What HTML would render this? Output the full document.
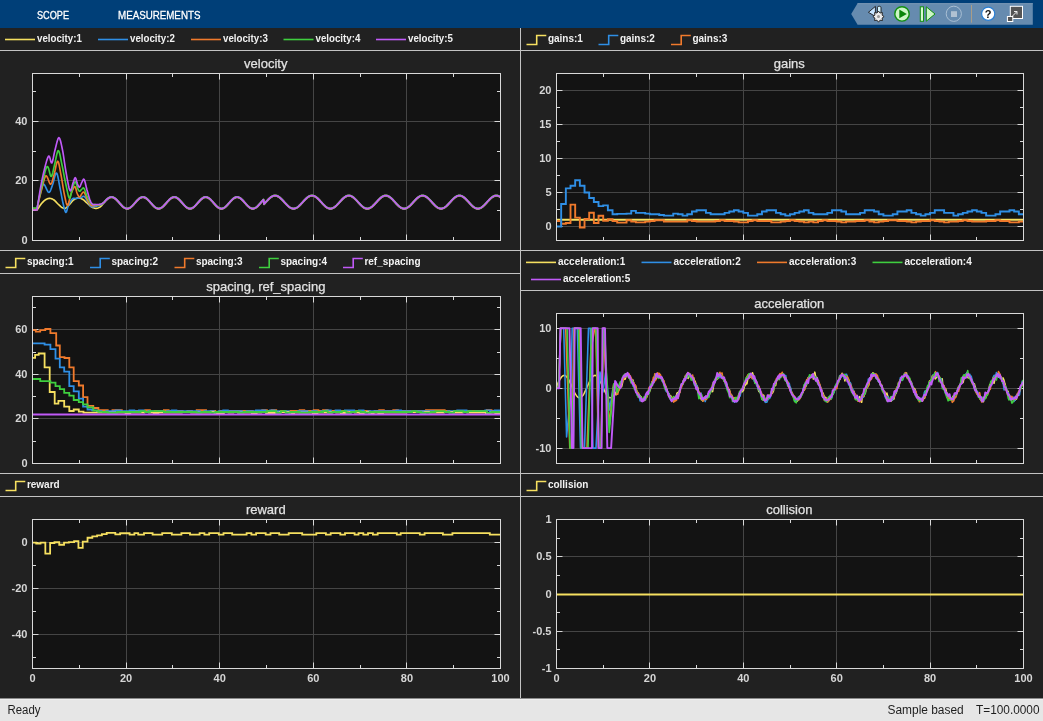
<!DOCTYPE html>
<html><head><meta charset="utf-8"><title>Scope</title>
<style>html,body{margin:0;padding:0;width:1043px;height:721px;overflow:hidden;background:#212121;font-family:"Liberation Sans",sans-serif}</style>
</head><body>
<svg width="1043" height="721" viewBox="0 0 1043 721" style="position:absolute;left:0;top:0;will-change:transform">
<style>
.tk{font:bold 11px "Liberation Sans",sans-serif;fill:#d6d6d6}
.ti{font:13px "Liberation Sans",sans-serif;fill:#e2e2e2;stroke:#e2e2e2;stroke-width:0.25px}
.lg{font:bold 10px "Liberation Sans",sans-serif;fill:#f2f2f2}
</style>
<rect width="1043" height="721" fill="#212121"/>
<path d="M520.5 28V698M0 50.5H1043M0 250.5H1043M0 273.5H520M521 290.5H1043M0 473.5H1043M0 496.5H1043" stroke="#c3c3c3" stroke-width="1"/>
<rect x="32" y="73" width="469" height="168" fill="#131313"/>
<path d="M126.5 74V240M219.5 74V240M313.5 74V240M406.5 74V240M33 180.5H500M33 121.5H500" stroke="#454545" stroke-width="1" fill="none"/>
<path d="M126.5 74v5.5M126.5 240v-5.5M219.5 74v5.5M219.5 240v-5.5M313.5 74v5.5M313.5 240v-5.5M406.5 74v5.5M406.5 240v-5.5M79.5 74v3M79.5 240v-3M172.5 74v3M172.5 240v-3M266.5 74v3M266.5 240v-3M360.5 74v3M360.5 240v-3M453.5 74v3M453.5 240v-3M33 240.5h5.5M500 240.5h-5.5M33 180.5h5.5M500 180.5h-5.5M33 121.5h5.5M500 121.5h-5.5M33 210.5h3M500 210.5h-3M33 151.5h3M500 151.5h-3M33 91.5h3M500 91.5h-3" stroke="#d9d9d9" stroke-width="1" fill="none"/>
<clipPath id="cv"><rect x="33" y="74" width="467" height="166"/></clipPath>
<g clip-path="url(#cv)">
<path d="M32.5 210 37 210 37.3 209.57 37.7 208.99 38.16 208.3 38.69 207.54 39.25 206.72 39.83 205.88 40.42 205.06 40.98 204.29 41.52 203.59 42 203 42.55 202.38 43.07 201.82 43.57 201.33 44.06 200.88 44.54 200.48 45.02 200.12 45.51 199.8 46 199.5 46.5 199.23 47 198.99 47.5 198.79 48 198.63 48.5 198.51 49 198.43 49.5 198.39 50 198.4 50.5 198.45 51 198.55 51.5 198.7 52 198.88 52.5 199.11 53 199.37 53.5 199.67 54 200 54.5 200.39 55 200.84 55.5 201.35 56 201.88 56.5 202.43 57 202.98 57.5 203.51 58 204 58.5 204.48 59.02 204.97 59.53 205.47 60.04 205.95 60.55 206.41 61.05 206.83 61.53 207.2 62 207.5 62.59 207.84 63.14 208.12 63.67 208.32 64.2 208.44 64.73 208.44 65.3 208.3 65.8 208.05 66.32 207.69 66.84 207.24 67.37 206.71 67.91 206.15 68.45 205.57 69 205 69.49 204.48 70 203.9 70.52 203.29 71.04 202.67 71.56 202.06 72.06 201.48 72.55 200.95 73 200.5 73.55 200 74.06 199.59 74.53 199.24 75 198.96 75.48 198.71 76 198.5 76.47 198.34 76.96 198.22 77.47 198.12 77.97 198.06 78.49 198.04 79 198.05 79.5 198.1 80 198.19 80.49 198.31 80.97 198.46 81.47 198.66 81.96 198.89 82.47 199.17 83 199.5 83.48 199.84 83.96 200.23 84.46 200.66 84.97 201.12 85.48 201.6 85.99 202.08 86.5 202.55 87 203 87.51 203.45 88.02 203.92 88.54 204.4 89.06 204.88 89.57 205.33 90.07 205.77 90.55 206.16 91 206.5 91.56 206.88 92.07 207.19 92.56 207.45 93.04 207.66 93.51 207.84 94 208 94.49 208.14 94.98 208.26 95.47 208.35 95.96 208.39 96.47 208.38 97 208.3 97.47 208.18 97.96 208.02 98.47 207.82 98.97 207.58 99.49 207.3 100 206.97 100.5 206.6 101.02 206.14 101.57 205.58 102.13 204.96 102.67 204.32 103.18 203.71 103.63 203.17 104 202.75 104.72 201.94 105 201.62 105.5 201.07 106 200.54 106.5 200.05 107 199.58 107.5 199.15 108 198.75 108.5 198.41 109 198.1 109.5 197.85 110 197.66 110.5 197.51 111 197.43 111.5 197.4 112 197.43 112.5 197.51 113 197.66 113.5 197.85 114 198.1 114.5 198.41 115 198.75 115.5 199.15 116 199.58 116.5 200.05 117 200.54 117.5 201.07 118 201.62 118.5 202.18 119 202.75 119.5 203.32 120 203.9 120.5 204.46 121 205.01 121.5 205.55 122 206.06 122.5 206.54 123 206.99 123.5 207.39 124 207.76 124.5 208.08 125 208.35 125.5 208.57 126 208.74 126.5 208.84 127 208.9 127.5 208.89 128 208.83 128.5 208.71 129 208.53 129.5 208.3 130 208.02 130.5 207.69 131 207.32 131.5 206.9 132 206.45 132.5 205.96 133 205.44 133.5 204.9 134 204.35 134.5 203.78 135 203.21 135.5 202.63 136 202.06 136.5 201.5 137 200.96 137.5 200.44 138 199.95 138.5 199.49 139 199.06 139.5 198.68 140 198.34 140.5 198.05 141 197.81 141.5 197.62 142 197.49 142.5 197.42 143 197.4 143.5 197.44 144 197.54 144.5 197.69 145 197.9 145.5 198.16 146 198.47 146.5 198.83 147 199.23 147.5 199.67 148 200.14 148.5 200.65 149 201.18 149.5 201.73 150 202.29 150.5 202.86 151 203.44 151.5 204.01 152 204.57 152.5 205.12 153 205.65 153.5 206.16 154 206.63 154.5 207.07 155 207.47 155.5 207.83 156 208.14 156.5 208.4 157 208.61 157.5 208.76 158 208.86 158.5 208.9 159 208.88 159.5 208.81 160 208.68 160.5 208.49 161 208.25 161.5 207.96 162 207.62 162.5 207.24 163 206.81 163.5 206.35 164 205.86 164.5 205.34 165 204.8 165.5 204.24 166 203.67 166.5 203.09 167 202.52 167.5 201.95 168 201.4 168.5 200.86 169 200.34 169.5 199.85 170 199.4 170.5 198.98 171 198.61 171.5 198.28 172 198 172.5 197.77 173 197.59 173.5 197.47 174 197.41 174.5 197.4 175 197.46 175.5 197.56 176 197.73 176.5 197.95 177 198.22 177.5 198.54 178 198.91 178.5 199.31 179 199.76 179.5 200.24 180 200.75 180.5 201.29 181 201.84 181.5 202.4 182 202.98 182.5 203.55 183 204.12 183.5 204.68 184 205.23 184.5 205.76 185 206.25 185.5 206.72 186 207.15 186.5 207.55 187 207.89 187.5 208.2 188 208.45 188.5 208.64 189 208.79 189.5 208.87 190 208.9 190.5 208.87 191 208.79 191.5 208.64 192 208.45 192.5 208.2 193 207.89 193.5 207.55 194 207.15 194.5 206.72 195 206.25 195.5 205.76 196 205.23 196.5 204.68 197 204.12 197.5 203.55 198 202.98 198.5 202.4 199 201.84 199.5 201.29 200 200.75 200.5 200.24 201 199.76 201.5 199.31 202 198.91 202.5 198.54 203 198.22 203.5 197.95 204 197.73 204.5 197.56 205 197.46 205.5 197.4 206 197.41 206.5 197.47 207 197.59 207.5 197.77 208 198 208.5 198.28 209 198.61 209.5 198.98 210 199.4 210.5 199.85 211 200.34 211.5 200.86 212 201.4 212.5 201.95 213 202.52 213.5 203.09 214 203.67 214.5 204.24 215 204.8 215.5 205.34 216 205.86 216.5 206.35 217 206.81 217.5 207.24 218 207.62 218.5 207.96 219 208.25 219.5 208.49 220 208.68 220.5 208.81 221 208.88 221.5 208.9 222 208.86 222.5 208.76 223 208.61 223.5 208.4 224 208.14 224.5 207.83 225 207.47 225.5 207.07 226 206.63 226.5 206.16 227 205.65 227.5 205.12 228 204.57 228.5 204.01 229 203.44 229.5 202.86 230 202.29 230.5 201.73 231 201.18 231.5 200.65 232 200.14 232.5 199.67 233 199.23 233.5 198.83 234 198.47 234.5 198.16 235 197.9 235.5 197.69 236 197.54 236.5 197.44 237 197.4 237.5 197.42 238 197.49 238.5 197.62 239 197.81 239.5 198.05 240 198.34 240.5 198.68 241 199.06 241.5 199.49 242 199.95 242.5 200.44 243 200.96 243.5 201.5 244 202.06 244.5 202.63 245 203.21 245.5 203.78 246 204.35 246.5 204.9 247 205.44 247.5 205.96 248 206.45 248.5 206.9 249 207.32 249.5 207.69 250 208.02 250.5 208.3 251 208.53 251.5 208.71 252 208.83 252.5 208.89 253 208.9 253.5 208.84 254 208.74 254.5 208.57 255 208.35 255.5 208.08 256 207.76 256.5 207.39 257 206.99 257.5 206.54 258 206.06 258.5 205.55 259 205.01 259.5 204.46 260 203.9 260.5 203.32 261 202.75 261.5 202.18 262 201.62 262.5 201.07 263 200.54 263.5 200.05 264 204.45 264.5 203.92 265 203.37 265.5 202.82 266 202.27 266.5 201.72 267 201.17 267.5 200.63 268 200.11 268.5 199.6 269 199.11 269.5 198.64 270 198.2 270.5 197.8 271 197.42 271.5 197.09 272 196.79 272.5 196.53 273 196.31 273.5 196.14 274 196.01 274.5 195.93 275 195.9 275.5 195.92 276 195.98 276.5 196.08 277 196.24 277.5 196.44 278 196.68 278.5 196.96 279 197.28 279.5 197.64 280 198.04 280.5 198.46 281 198.92 281.5 199.4 282 199.9 282.5 200.42 283 200.95 283.5 201.5 284 202.05 284.5 202.6 285 203.15 285.5 203.7 286 204.24 286.5 204.76 287 205.27 287.5 205.75 288 206.22 288.5 206.65 289 207.05 289.5 207.42 290 207.76 290.5 208.05 291 208.3 291.5 208.51 292 208.68 292.5 208.8 293 208.87 293.5 208.9 294 208.88 294.5 208.81 295 208.7 295.5 208.54 296 208.33 296.5 208.09 297 207.8 297.5 207.47 298 207.11 298.5 206.71 299 206.28 299.5 205.82 300 205.34 300.5 204.83 301 204.31 301.5 203.78 302 203.23 302.5 202.68 303 202.13 303.5 201.57 304 201.03 304.5 200.49 305 199.97 305.5 199.47 306 198.98 306.5 198.53 307 198.1 307.5 197.7 308 197.33 308.5 197 309 196.71 309.5 196.47 310 196.26 310.5 196.1 311 195.99 311.5 195.92 312 195.9 312.5 195.93 313 196 313.5 196.12 314 196.29 314.5 196.49 315 196.75 315.5 197.04 316 197.37 316.5 197.74 317 198.15 317.5 198.58 318 199.04 318.5 199.53 319 200.03 319.5 200.56 320 201.09 320.5 201.64 321 202.19 321.5 202.75 322 203.3 322.5 203.84 323 204.38 323.5 204.9 324 205.4 324.5 205.88 325 206.33 325.5 206.76 326 207.15 326.5 207.51 327 207.84 327.5 208.12 328 208.36 328.5 208.56 329 208.71 329.5 208.82 330 208.88 330.5 208.9 331 208.87 331.5 208.79 332 208.66 332.5 208.49 333 208.27 333.5 208.02 334 207.72 334.5 207.38 335 207.01 335.5 206.6 336 206.16 336.5 205.7 337 205.21 337.5 204.7 338 204.17 338.5 203.64 339 203.09 339.5 202.54 340 201.98 340.5 201.43 341 200.89 341.5 200.36 342 199.84 342.5 199.34 343 198.86 343.5 198.41 344 197.99 344.5 197.6 345 197.24 345.5 196.92 346 196.65 346.5 196.41 347 196.22 347.5 196.07 348 195.97 348.5 195.91 349 195.9 349.5 195.94 350 196.03 350.5 196.16 351 196.34 351.5 196.56 352 196.82 352.5 197.12 353 197.47 353.5 197.84 354 198.26 354.5 198.7 355 199.16 355.5 199.66 356 200.17 356.5 200.69 357 201.23 357.5 201.78 358 202.34 358.5 202.89 359 203.44 359.5 203.98 360 204.51 360.5 205.03 361 205.52 361.5 206 362 206.45 362.5 206.86 363 207.25 363.5 207.6 364 207.91 364.5 208.19 365 208.42 365.5 208.6 366 208.75 366.5 208.84 367 208.89 367.5 208.9 368 208.85 368.5 208.76 369 208.62 369.5 208.44 370 208.21 370.5 207.94 371 207.63 371.5 207.29 372 206.9 372.5 206.49 373 206.04 373.5 205.57 374 205.08 374.5 204.56 375 204.04 375.5 203.49 376 202.94 376.5 202.39 377 201.84 377.5 201.29 378 200.75 378.5 200.22 379 199.71 379.5 199.21 380 198.74 380.5 198.3 381 197.88 381.5 197.5 382 197.16 382.5 196.85 383 196.58 383.5 196.36 384 196.17 384.5 196.04 385 195.95 385.5 195.9 386 195.91 386.5 195.96 387 196.06 387.5 196.2 388 196.39 388.5 196.62 389 196.9 389.5 197.21 390 197.56 390.5 197.95 391 198.37 391.5 198.82 392 199.29 392.5 199.79 393 200.3 393.5 200.83 394 201.38 394.5 201.93 395 202.48 395.5 203.03 396 203.58 396.5 204.12 397 204.65 397.5 205.16 398 205.65 398.5 206.12 399 206.56 399.5 206.97 400 207.34 400.5 207.69 401 207.99 401.5 208.25 402 208.47 402.5 208.65 403 208.78 403.5 208.86 404 208.9 404.5 208.89 405 208.83 405.5 208.73 406 208.58 406.5 208.38 407 208.15 407.5 207.87 408 207.55 408.5 207.19 409 206.8 409.5 206.38 410 205.92 410.5 205.45 411 204.95 411.5 204.43 412 203.9 412.5 203.35 413 202.8 413.5 202.25 414 201.7 414.5 201.15 415 200.61 415.5 200.08 416 199.58 416.5 199.09 417 198.62 417.5 198.19 418 197.78 418.5 197.41 419 197.07 419.5 196.77 420 196.52 420.5 196.3 421 196.13 421.5 196.01 422 195.93 422.5 195.9 423 195.92 423.5 195.98 424 196.09 424.5 196.24 425 196.44 425.5 196.69 426 196.97 426.5 197.3 427 197.66 427.5 198.05 428 198.48 428.5 198.94 429 199.42 429.5 199.92 430 200.44 430.5 200.97 431 201.52 431.5 202.07 432 202.62 432.5 203.18 433 203.72 433.5 204.26 434 204.78 434.5 205.29 435 205.77 435.5 206.23 436 206.67 436.5 207.07 437 207.44 437.5 207.77 438 208.06 438.5 208.31 439 208.52 439.5 208.68 440 208.8 440.5 208.87 441 208.9 441.5 208.88 442 208.81 442.5 208.69 443 208.53 443.5 208.33 444 208.08 444.5 207.79 445 207.46 445.5 207.09 446 206.69 446.5 206.26 447 205.8 447.5 205.32 448 204.81 448.5 204.29 449 203.76 449.5 203.21 450 202.66 450.5 202.1 451 201.55 451.5 201.01 452 200.47 452.5 199.95 453 199.45 453.5 198.96 454 198.51 454.5 198.08 455 197.68 455.5 197.32 456 196.99 456.5 196.7 457 196.46 457.5 196.26 458 196.1 458.5 195.98 459 195.92 459.5 195.9 460 195.93 460.5 196 461 196.13 461.5 196.29 462 196.5 462.5 196.76 463 197.05 463.5 197.39 464 197.76 464.5 198.16 465 198.6 465.5 199.06 466 199.55 466.5 200.05 467 200.58 467.5 201.12 468 201.66 468.5 202.21 469 202.77 469.5 203.32 470 203.86 470.5 204.4 471 204.92 471.5 205.42 472 205.9 472.5 206.35 473 206.77 473.5 207.17 474 207.53 474.5 207.85 475 208.13 475.5 208.37 476 208.57 476.5 208.72 477 208.83 477.5 208.89 478 208.9 478.5 208.86 479 208.78 479.5 208.66 480 208.48 480.5 208.27 481 208.01 481.5 207.71 482 207.37 482.5 206.99 483 206.58 483.5 206.14 484 205.68 484.5 205.19 485 204.68 485.5 204.15 486 203.61 486.5 203.07 487 202.51 487.5 201.96 488 201.41 488.5 200.87 489 200.33 489.5 199.82 490 199.32 490.5 198.84 491 198.39 491.5 197.97 492 197.58 492.5 197.23 493 196.91 493.5 196.64 494 196.4 494.5 196.21 495 196.06 495.5 195.96 496 195.91 496.5 195.9 497 195.94 497.5 196.03 498 196.16 498.5 196.34 499 196.57 499.5 196.83 500 197.14 500.5 197.48" stroke="#f6e060" stroke-width="1.65" fill="none" stroke-linejoin="round"/>
<path d="M32.5 208.5 37 208.5 37.32 207 37.76 204.9 38.28 202.42 38.85 199.8 39.44 197.25 40 195 40.46 193.15 40.91 191.16 41.37 189.19 41.85 187.36 42.35 185.82 42.9 184.72 43.5 184.2 43.96 184.32 44.47 184.87 45.01 185.75 45.57 186.86 46.14 188.09 46.71 189.33 47.27 190.49 47.81 191.45 48.33 192.13 48.8 192.4 49.41 192.2 49.97 191.56 50.48 190.56 50.98 189.31 51.47 187.9 51.97 186.43 52.5 185 52.99 183.54 53.49 181.69 54 179.65 54.51 177.6 55.02 175.72 55.53 174.21 56.02 173.24 56.5 173 57.03 173.73 57.55 175.32 58.06 177.54 58.56 180.15 59.05 182.93 59.53 185.62 60 188 60.53 190.56 61.04 193.21 61.54 195.85 62.03 198.41 62.51 200.82 63 203 63.59 205.51 64.18 207.97 64.77 210.12 65.34 211.68 65.9 212.4 66.42 211.97 66.9 210.59 67.38 208.67 67.9 206.67 68.5 205 68.99 204.01 69.53 203 70.1 202 70.68 201.05 71.27 200.19 71.85 199.46 72.4 198.9 72.92 198.55 73.42 198.38 73.91 198.35 74.4 198.4 74.91 198.48 75.44 198.53 76 198.5 76.47 198.43 76.97 198.36 77.5 198.28 78.03 198.19 78.57 198.1 79.1 198.01 79.63 197.91 80.13 197.81 80.6 197.7 81.17 197.49 81.7 197.19 82.2 196.86 82.7 196.57 83.19 196.37 83.68 196.32 84.2 196.5 84.74 196.94 85.29 197.61 85.85 198.44 86.4 199.35 86.95 200.3 87.49 201.2 88 202 88.55 202.88 89.05 203.79 89.54 204.67 90.04 205.47 90.58 206.13 91.2 206.6 91.66 206.78 92.16 206.86 92.69 206.87 93.24 206.81 93.8 206.71 94.36 206.58 94.92 206.44 95.47 206.31 96 206.2 96.52 206.11 97.04 206.01 97.56 205.91 98.08 205.79 98.59 205.66 99.09 205.52 99.57 205.37 100.05 205.19 100.5 205 101.07 204.7 101.65 204.35 102.2 203.97 102.73 203.57 103.21 203.19 103.64 202.84 104 202.55 104.72 201.83 105 201.42 105.5 200.87 106 200.34 106.5 199.85 107 199.38 107.5 198.95 108 198.55 108.5 198.21 109 197.9 109.5 197.65 110 197.46 110.5 197.31 111 197.23 111.5 197.2 112 197.23 112.5 197.31 113 197.46 113.5 197.65 114 197.9 114.5 198.21 115 198.55 115.5 198.95 116 199.38 116.5 199.85 117 200.34 117.5 200.87 118 201.42 118.5 201.98 119 202.55 119.5 203.12 120 203.7 120.5 204.26 121 204.81 121.5 205.35 122 205.86 122.5 206.34 123 206.79 123.5 207.19 124 207.56 124.5 207.88 125 208.15 125.5 208.37 126 208.54 126.5 208.64 127 208.7 127.5 208.69 128 208.63 128.5 208.51 129 208.33 129.5 208.1 130 207.82 130.5 207.49 131 207.12 131.5 206.7 132 206.25 132.5 205.76 133 205.24 133.5 204.7 134 204.15 134.5 203.58 135 203.01 135.5 202.43 136 201.86 136.5 201.3 137 200.76 137.5 200.24 138 199.75 138.5 199.29 139 198.86 139.5 198.48 140 198.14 140.5 197.85 141 197.61 141.5 197.42 142 197.29 142.5 197.22 143 197.2 143.5 197.24 144 197.34 144.5 197.49 145 197.7 145.5 197.96 146 198.27 146.5 198.63 147 199.03 147.5 199.47 148 199.94 148.5 200.45 149 200.98 149.5 201.53 150 202.09 150.5 202.66 151 203.24 151.5 203.81 152 204.37 152.5 204.92 153 205.45 153.5 205.96 154 206.43 154.5 206.87 155 207.27 155.5 207.63 156 207.94 156.5 208.2 157 208.41 157.5 208.56 158 208.66 158.5 208.7 159 208.68 159.5 208.61 160 208.48 160.5 208.29 161 208.05 161.5 207.76 162 207.42 162.5 207.04 163 206.61 163.5 206.15 164 205.66 164.5 205.14 165 204.6 165.5 204.04 166 203.47 166.5 202.89 167 202.32 167.5 201.75 168 201.2 168.5 200.66 169 200.14 169.5 199.65 170 199.2 170.5 198.78 171 198.41 171.5 198.08 172 197.8 172.5 197.57 173 197.39 173.5 197.27 174 197.21 174.5 197.2 175 197.26 175.5 197.36 176 197.53 176.5 197.75 177 198.02 177.5 198.34 178 198.71 178.5 199.11 179 199.56 179.5 200.04 180 200.55 180.5 201.09 181 201.64 181.5 202.2 182 202.78 182.5 203.35 183 203.92 183.5 204.48 184 205.03 184.5 205.56 185 206.05 185.5 206.52 186 206.95 186.5 207.35 187 207.69 187.5 208 188 208.25 188.5 208.44 189 208.59 189.5 208.67 190 208.7 190.5 208.67 191 208.59 191.5 208.44 192 208.25 192.5 208 193 207.69 193.5 207.35 194 206.95 194.5 206.52 195 206.05 195.5 205.56 196 205.03 196.5 204.48 197 203.92 197.5 203.35 198 202.78 198.5 202.2 199 201.64 199.5 201.09 200 200.55 200.5 200.04 201 199.56 201.5 199.11 202 198.71 202.5 198.34 203 198.02 203.5 197.75 204 197.53 204.5 197.36 205 197.26 205.5 197.2 206 197.21 206.5 197.27 207 197.39 207.5 197.57 208 197.8 208.5 198.08 209 198.41 209.5 198.78 210 199.2 210.5 199.65 211 200.14 211.5 200.66 212 201.2 212.5 201.75 213 202.32 213.5 202.89 214 203.47 214.5 204.04 215 204.6 215.5 205.14 216 205.66 216.5 206.15 217 206.61 217.5 207.04 218 207.42 218.5 207.76 219 208.05 219.5 208.29 220 208.48 220.5 208.61 221 208.68 221.5 208.7 222 208.66 222.5 208.56 223 208.41 223.5 208.2 224 207.94 224.5 207.63 225 207.27 225.5 206.87 226 206.43 226.5 205.96 227 205.45 227.5 204.92 228 204.37 228.5 203.81 229 203.24 229.5 202.66 230 202.09 230.5 201.53 231 200.98 231.5 200.45 232 199.94 232.5 199.47 233 199.03 233.5 198.63 234 198.27 234.5 197.96 235 197.7 235.5 197.49 236 197.34 236.5 197.24 237 197.2 237.5 197.22 238 197.29 238.5 197.42 239 197.61 239.5 197.85 240 198.14 240.5 198.48 241 198.86 241.5 199.29 242 199.75 242.5 200.24 243 200.76 243.5 201.3 244 201.86 244.5 202.43 245 203.01 245.5 203.58 246 204.15 246.5 204.7 247 205.24 247.5 205.76 248 206.25 248.5 206.7 249 207.12 249.5 207.49 250 207.82 250.5 208.1 251 208.33 251.5 208.51 252 208.63 252.5 208.69 253 208.7 253.5 208.64 254 208.54 254.5 208.37 255 208.15 255.5 207.88 256 207.56 256.5 207.19 257 206.79 257.5 206.34 258 205.86 258.5 205.35 259 204.81 259.5 204.26 260 203.7 260.5 203.12 261 202.55 261.5 201.98 262 201.42 262.5 200.87 263 200.34 263.5 199.85 264 204.25 264.5 203.72 265 203.17 265.5 202.62 266 202.07 266.5 201.52 267 200.97 267.5 200.43 268 199.91 268.5 199.4 269 198.91 269.5 198.44 270 198 270.5 197.6 271 197.22 271.5 196.89 272 196.59 272.5 196.33 273 196.11 273.5 195.94 274 195.81 274.5 195.73 275 195.7 275.5 195.72 276 195.78 276.5 195.88 277 196.04 277.5 196.24 278 196.48 278.5 196.76 279 197.08 279.5 197.44 280 197.84 280.5 198.26 281 198.72 281.5 199.2 282 199.7 282.5 200.22 283 200.75 283.5 201.3 284 201.85 284.5 202.4 285 202.95 285.5 203.5 286 204.04 286.5 204.56 287 205.07 287.5 205.55 288 206.02 288.5 206.45 289 206.85 289.5 207.22 290 207.56 290.5 207.85 291 208.1 291.5 208.31 292 208.48 292.5 208.6 293 208.67 293.5 208.7 294 208.68 294.5 208.61 295 208.5 295.5 208.34 296 208.13 296.5 207.89 297 207.6 297.5 207.27 298 206.91 298.5 206.51 299 206.08 299.5 205.62 300 205.14 300.5 204.63 301 204.11 301.5 203.58 302 203.03 302.5 202.48 303 201.93 303.5 201.37 304 200.83 304.5 200.29 305 199.77 305.5 199.27 306 198.78 306.5 198.33 307 197.9 307.5 197.5 308 197.13 308.5 196.8 309 196.51 309.5 196.27 310 196.06 310.5 195.9 311 195.79 311.5 195.72 312 195.7 312.5 195.73 313 195.8 313.5 195.92 314 196.09 314.5 196.29 315 196.55 315.5 196.84 316 197.17 316.5 197.54 317 197.95 317.5 198.38 318 198.84 318.5 199.33 319 199.83 319.5 200.36 320 200.89 320.5 201.44 321 201.99 321.5 202.55 322 203.1 322.5 203.64 323 204.18 323.5 204.7 324 205.2 324.5 205.68 325 206.13 325.5 206.56 326 206.95 326.5 207.31 327 207.64 327.5 207.92 328 208.16 328.5 208.36 329 208.51 329.5 208.62 330 208.68 330.5 208.7 331 208.67 331.5 208.59 332 208.46 332.5 208.29 333 208.07 333.5 207.82 334 207.52 334.5 207.18 335 206.81 335.5 206.4 336 205.96 336.5 205.5 337 205.01 337.5 204.5 338 203.97 338.5 203.44 339 202.89 339.5 202.34 340 201.78 340.5 201.23 341 200.69 341.5 200.16 342 199.64 342.5 199.14 343 198.66 343.5 198.21 344 197.79 344.5 197.4 345 197.04 345.5 196.72 346 196.45 346.5 196.21 347 196.02 347.5 195.87 348 195.77 348.5 195.71 349 195.7 349.5 195.74 350 195.83 350.5 195.96 351 196.14 351.5 196.36 352 196.62 352.5 196.92 353 197.27 353.5 197.64 354 198.06 354.5 198.5 355 198.96 355.5 199.46 356 199.97 356.5 200.49 357 201.03 357.5 201.58 358 202.14 358.5 202.69 359 203.24 359.5 203.78 360 204.31 360.5 204.83 361 205.32 361.5 205.8 362 206.25 362.5 206.66 363 207.05 363.5 207.4 364 207.71 364.5 207.99 365 208.22 365.5 208.4 366 208.55 366.5 208.64 367 208.69 367.5 208.7 368 208.65 368.5 208.56 369 208.42 369.5 208.24 370 208.01 370.5 207.74 371 207.43 371.5 207.09 372 206.7 372.5 206.29 373 205.84 373.5 205.37 374 204.88 374.5 204.36 375 203.84 375.5 203.29 376 202.74 376.5 202.19 377 201.64 377.5 201.09 378 200.55 378.5 200.02 379 199.51 379.5 199.01 380 198.54 380.5 198.1 381 197.68 381.5 197.3 382 196.96 382.5 196.65 383 196.38 383.5 196.16 384 195.97 384.5 195.84 385 195.75 385.5 195.7 386 195.71 386.5 195.76 387 195.86 387.5 196 388 196.19 388.5 196.42 389 196.7 389.5 197.01 390 197.36 390.5 197.75 391 198.17 391.5 198.62 392 199.09 392.5 199.59 393 200.1 393.5 200.63 394 201.18 394.5 201.73 395 202.28 395.5 202.83 396 203.38 396.5 203.92 397 204.45 397.5 204.96 398 205.45 398.5 205.92 399 206.36 399.5 206.77 400 207.14 400.5 207.49 401 207.79 401.5 208.05 402 208.27 402.5 208.45 403 208.58 403.5 208.66 404 208.7 404.5 208.69 405 208.63 405.5 208.53 406 208.38 406.5 208.18 407 207.95 407.5 207.67 408 207.35 408.5 206.99 409 206.6 409.5 206.18 410 205.72 410.5 205.25 411 204.75 411.5 204.23 412 203.7 412.5 203.15 413 202.6 413.5 202.05 414 201.5 414.5 200.95 415 200.41 415.5 199.88 416 199.38 416.5 198.89 417 198.42 417.5 197.99 418 197.58 418.5 197.21 419 196.87 419.5 196.57 420 196.32 420.5 196.1 421 195.93 421.5 195.81 422 195.73 422.5 195.7 423 195.72 423.5 195.78 424 195.89 424.5 196.04 425 196.24 425.5 196.49 426 196.77 426.5 197.1 427 197.46 427.5 197.85 428 198.28 428.5 198.74 429 199.22 429.5 199.72 430 200.24 430.5 200.77 431 201.32 431.5 201.87 432 202.42 432.5 202.98 433 203.52 433.5 204.06 434 204.58 434.5 205.09 435 205.57 435.5 206.03 436 206.47 436.5 206.87 437 207.24 437.5 207.57 438 207.86 438.5 208.11 439 208.32 439.5 208.48 440 208.6 440.5 208.67 441 208.7 441.5 208.68 442 208.61 442.5 208.49 443 208.33 443.5 208.13 444 207.88 444.5 207.59 445 207.26 445.5 206.89 446 206.49 446.5 206.06 447 205.6 447.5 205.12 448 204.61 448.5 204.09 449 203.56 449.5 203.01 450 202.46 450.5 201.9 451 201.35 451.5 200.81 452 200.27 452.5 199.75 453 199.25 453.5 198.76 454 198.31 454.5 197.88 455 197.48 455.5 197.12 456 196.79 456.5 196.5 457 196.26 457.5 196.06 458 195.9 458.5 195.78 459 195.72 459.5 195.7 460 195.73 460.5 195.8 461 195.93 461.5 196.09 462 196.3 462.5 196.56 463 196.85 463.5 197.19 464 197.56 464.5 197.96 465 198.4 465.5 198.86 466 199.35 466.5 199.85 467 200.38 467.5 200.92 468 201.46 468.5 202.01 469 202.57 469.5 203.12 470 203.66 470.5 204.2 471 204.72 471.5 205.22 472 205.7 472.5 206.15 473 206.57 473.5 206.97 474 207.33 474.5 207.65 475 207.93 475.5 208.17 476 208.37 476.5 208.52 477 208.63 477.5 208.69 478 208.7 478.5 208.66 479 208.58 479.5 208.46 480 208.28 480.5 208.07 481 207.81 481.5 207.51 482 207.17 482.5 206.79 483 206.38 483.5 205.94 484 205.48 484.5 204.99 485 204.48 485.5 203.95 486 203.41 486.5 202.87 487 202.31 487.5 201.76 488 201.21 488.5 200.67 489 200.13 489.5 199.62 490 199.12 490.5 198.64 491 198.19 491.5 197.77 492 197.38 492.5 197.03 493 196.71 493.5 196.44 494 196.2 494.5 196.01 495 195.86 495.5 195.76 496 195.71 496.5 195.7 497 195.74 497.5 195.83 498 195.96 498.5 196.14 499 196.37 499.5 196.63 500 196.94 500.5 197.28" stroke="#2f8fe6" stroke-width="1.65" fill="none" stroke-linejoin="round"/>
<path d="M32.5 209 37 209 37.3 207.7 37.7 205.96 38.17 203.89 38.7 201.59 39.26 199.15 39.84 196.67 40.42 194.26 40.98 192 41.5 190 42.05 187.85 42.6 185.61 43.14 183.37 43.69 181.24 44.23 179.33 44.78 177.74 45.34 176.56 45.9 175.9 46.42 175.93 46.95 176.57 47.49 177.66 48.04 179.01 48.58 180.48 49.12 181.9 49.64 183.1 50.13 183.92 50.6 184.2 51.24 183.73 51.82 182.6 52.36 180.98 52.89 179.06 53.43 177 54 175 54.52 173.03 55.05 170.59 55.59 167.96 56.13 165.42 56.66 163.27 57.19 161.76 57.7 161.2 58.27 161.83 58.82 163.53 59.36 165.99 59.9 168.92 60.44 172.02 61 175 61.49 177.62 62 180.54 62.51 183.64 63.02 186.77 63.53 189.8 64.02 192.59 64.5 195 65.02 197.54 65.52 199.99 66 202.16 66.48 203.9 66.98 205.04 67.5 205.4 67.97 204.88 68.45 203.62 68.95 201.83 69.45 199.76 69.96 197.61 70.48 195.61 71 194 71.54 192.6 72.11 191.16 72.69 189.78 73.27 188.53 73.82 187.51 74.34 186.8 74.8 186.5 75.46 187.2 75.98 189.03 76.47 191.22 77 193 77.48 194.1 77.98 195.18 78.49 196.13 79 196.81 79.5 197.1 80 196.83 80.51 196.09 81.02 195.13 81.52 194.18 82 193.5 82.55 192.85 83.05 192.25 83.58 192 84.2 192.4 84.68 193.19 85.2 194.37 85.76 195.79 86.33 197.31 86.91 198.76 87.5 200 88 200.93 88.5 201.86 89 202.76 89.52 203.59 90.05 204.32 90.61 204.94 91.2 205.4 91.69 205.63 92.2 205.76 92.73 205.8 93.27 205.77 93.83 205.69 94.38 205.58 94.93 205.47 95.47 205.37 96 205.3 96.52 205.26 97.04 205.21 97.56 205.17 98.08 205.12 98.59 205.05 99.09 204.97 99.57 204.87 100.05 204.75 100.5 204.6 101.07 204.35 101.65 204.04 102.2 203.68 102.73 203.32 103.21 202.95 103.64 202.62 104 202.35 104.72 201.64 105 201.22 105.5 200.67 106 200.14 106.5 199.65 107 199.18 107.5 198.75 108 198.35 108.5 198.01 109 197.7 109.5 197.45 110 197.26 110.5 197.11 111 197.03 111.5 197 112 197.03 112.5 197.11 113 197.26 113.5 197.45 114 197.7 114.5 198.01 115 198.35 115.5 198.75 116 199.18 116.5 199.65 117 200.14 117.5 200.67 118 201.22 118.5 201.78 119 202.35 119.5 202.92 120 203.5 120.5 204.06 121 204.61 121.5 205.15 122 205.66 122.5 206.14 123 206.59 123.5 206.99 124 207.36 124.5 207.68 125 207.95 125.5 208.17 126 208.34 126.5 208.44 127 208.5 127.5 208.49 128 208.43 128.5 208.31 129 208.13 129.5 207.9 130 207.62 130.5 207.29 131 206.92 131.5 206.5 132 206.05 132.5 205.56 133 205.04 133.5 204.5 134 203.95 134.5 203.38 135 202.81 135.5 202.23 136 201.66 136.5 201.1 137 200.56 137.5 200.04 138 199.55 138.5 199.09 139 198.66 139.5 198.28 140 197.94 140.5 197.65 141 197.41 141.5 197.22 142 197.09 142.5 197.02 143 197 143.5 197.04 144 197.14 144.5 197.29 145 197.5 145.5 197.76 146 198.07 146.5 198.43 147 198.83 147.5 199.27 148 199.74 148.5 200.25 149 200.78 149.5 201.33 150 201.89 150.5 202.46 151 203.04 151.5 203.61 152 204.17 152.5 204.72 153 205.25 153.5 205.76 154 206.23 154.5 206.67 155 207.07 155.5 207.43 156 207.74 156.5 208 157 208.21 157.5 208.36 158 208.46 158.5 208.5 159 208.48 159.5 208.41 160 208.28 160.5 208.09 161 207.85 161.5 207.56 162 207.22 162.5 206.84 163 206.41 163.5 205.95 164 205.46 164.5 204.94 165 204.4 165.5 203.84 166 203.27 166.5 202.69 167 202.12 167.5 201.55 168 201 168.5 200.46 169 199.94 169.5 199.45 170 199 170.5 198.58 171 198.21 171.5 197.88 172 197.6 172.5 197.37 173 197.19 173.5 197.07 174 197.01 174.5 197 175 197.06 175.5 197.16 176 197.33 176.5 197.55 177 197.82 177.5 198.14 178 198.51 178.5 198.91 179 199.36 179.5 199.84 180 200.35 180.5 200.89 181 201.44 181.5 202 182 202.58 182.5 203.15 183 203.72 183.5 204.28 184 204.83 184.5 205.36 185 205.85 185.5 206.32 186 206.75 186.5 207.15 187 207.49 187.5 207.8 188 208.05 188.5 208.24 189 208.39 189.5 208.47 190 208.5 190.5 208.47 191 208.39 191.5 208.24 192 208.05 192.5 207.8 193 207.49 193.5 207.15 194 206.75 194.5 206.32 195 205.85 195.5 205.36 196 204.83 196.5 204.28 197 203.72 197.5 203.15 198 202.58 198.5 202 199 201.44 199.5 200.89 200 200.35 200.5 199.84 201 199.36 201.5 198.91 202 198.51 202.5 198.14 203 197.82 203.5 197.55 204 197.33 204.5 197.16 205 197.06 205.5 197 206 197.01 206.5 197.07 207 197.19 207.5 197.37 208 197.6 208.5 197.88 209 198.21 209.5 198.58 210 199 210.5 199.45 211 199.94 211.5 200.46 212 201 212.5 201.55 213 202.12 213.5 202.69 214 203.27 214.5 203.84 215 204.4 215.5 204.94 216 205.46 216.5 205.95 217 206.41 217.5 206.84 218 207.22 218.5 207.56 219 207.85 219.5 208.09 220 208.28 220.5 208.41 221 208.48 221.5 208.5 222 208.46 222.5 208.36 223 208.21 223.5 208 224 207.74 224.5 207.43 225 207.07 225.5 206.67 226 206.23 226.5 205.76 227 205.25 227.5 204.72 228 204.17 228.5 203.61 229 203.04 229.5 202.46 230 201.89 230.5 201.33 231 200.78 231.5 200.25 232 199.74 232.5 199.27 233 198.83 233.5 198.43 234 198.07 234.5 197.76 235 197.5 235.5 197.29 236 197.14 236.5 197.04 237 197 237.5 197.02 238 197.09 238.5 197.22 239 197.41 239.5 197.65 240 197.94 240.5 198.28 241 198.66 241.5 199.09 242 199.55 242.5 200.04 243 200.56 243.5 201.1 244 201.66 244.5 202.23 245 202.81 245.5 203.38 246 203.95 246.5 204.5 247 205.04 247.5 205.56 248 206.05 248.5 206.5 249 206.92 249.5 207.29 250 207.62 250.5 207.9 251 208.13 251.5 208.31 252 208.43 252.5 208.49 253 208.5 253.5 208.44 254 208.34 254.5 208.17 255 207.95 255.5 207.68 256 207.36 256.5 206.99 257 206.59 257.5 206.14 258 205.66 258.5 205.15 259 204.61 259.5 204.06 260 203.5 260.5 202.92 261 202.35 261.5 201.78 262 201.22 262.5 200.67 263 200.14 263.5 199.65 264 204.05 264.5 203.52 265 202.97 265.5 202.42 266 201.87 266.5 201.32 267 200.77 267.5 200.23 268 199.71 268.5 199.2 269 198.71 269.5 198.24 270 197.8 270.5 197.4 271 197.02 271.5 196.69 272 196.39 272.5 196.13 273 195.91 273.5 195.74 274 195.61 274.5 195.53 275 195.5 275.5 195.52 276 195.58 276.5 195.68 277 195.84 277.5 196.04 278 196.28 278.5 196.56 279 196.88 279.5 197.24 280 197.64 280.5 198.06 281 198.52 281.5 199 282 199.5 282.5 200.02 283 200.55 283.5 201.1 284 201.65 284.5 202.2 285 202.75 285.5 203.3 286 203.84 286.5 204.36 287 204.87 287.5 205.35 288 205.82 288.5 206.25 289 206.65 289.5 207.02 290 207.36 290.5 207.65 291 207.9 291.5 208.11 292 208.28 292.5 208.4 293 208.47 293.5 208.5 294 208.48 294.5 208.41 295 208.3 295.5 208.14 296 207.93 296.5 207.69 297 207.4 297.5 207.07 298 206.71 298.5 206.31 299 205.88 299.5 205.42 300 204.94 300.5 204.43 301 203.91 301.5 203.38 302 202.83 302.5 202.28 303 201.73 303.5 201.17 304 200.63 304.5 200.09 305 199.57 305.5 199.07 306 198.58 306.5 198.13 307 197.7 307.5 197.3 308 196.93 308.5 196.6 309 196.31 309.5 196.07 310 195.86 310.5 195.7 311 195.59 311.5 195.52 312 195.5 312.5 195.53 313 195.6 313.5 195.72 314 195.89 314.5 196.09 315 196.35 315.5 196.64 316 196.97 316.5 197.34 317 197.75 317.5 198.18 318 198.64 318.5 199.13 319 199.63 319.5 200.16 320 200.69 320.5 201.24 321 201.79 321.5 202.35 322 202.9 322.5 203.44 323 203.98 323.5 204.5 324 205 324.5 205.48 325 205.93 325.5 206.36 326 206.75 326.5 207.11 327 207.44 327.5 207.72 328 207.96 328.5 208.16 329 208.31 329.5 208.42 330 208.48 330.5 208.5 331 208.47 331.5 208.39 332 208.26 332.5 208.09 333 207.87 333.5 207.62 334 207.32 334.5 206.98 335 206.61 335.5 206.2 336 205.76 336.5 205.3 337 204.81 337.5 204.3 338 203.77 338.5 203.24 339 202.69 339.5 202.14 340 201.58 340.5 201.03 341 200.49 341.5 199.96 342 199.44 342.5 198.94 343 198.46 343.5 198.01 344 197.59 344.5 197.2 345 196.84 345.5 196.52 346 196.25 346.5 196.01 347 195.82 347.5 195.67 348 195.57 348.5 195.51 349 195.5 349.5 195.54 350 195.63 350.5 195.76 351 195.94 351.5 196.16 352 196.42 352.5 196.72 353 197.07 353.5 197.44 354 197.86 354.5 198.3 355 198.76 355.5 199.26 356 199.77 356.5 200.29 357 200.83 357.5 201.38 358 201.94 358.5 202.49 359 203.04 359.5 203.58 360 204.11 360.5 204.63 361 205.12 361.5 205.6 362 206.05 362.5 206.46 363 206.85 363.5 207.2 364 207.51 364.5 207.79 365 208.02 365.5 208.2 366 208.35 366.5 208.44 367 208.49 367.5 208.5 368 208.45 368.5 208.36 369 208.22 369.5 208.04 370 207.81 370.5 207.54 371 207.23 371.5 206.89 372 206.5 372.5 206.09 373 205.64 373.5 205.17 374 204.68 374.5 204.16 375 203.64 375.5 203.09 376 202.54 376.5 201.99 377 201.44 377.5 200.89 378 200.35 378.5 199.82 379 199.31 379.5 198.81 380 198.34 380.5 197.9 381 197.48 381.5 197.1 382 196.76 382.5 196.45 383 196.18 383.5 195.96 384 195.77 384.5 195.64 385 195.55 385.5 195.5 386 195.51 386.5 195.56 387 195.66 387.5 195.8 388 195.99 388.5 196.22 389 196.5 389.5 196.81 390 197.16 390.5 197.55 391 197.97 391.5 198.42 392 198.89 392.5 199.39 393 199.9 393.5 200.43 394 200.98 394.5 201.53 395 202.08 395.5 202.63 396 203.18 396.5 203.72 397 204.25 397.5 204.76 398 205.25 398.5 205.72 399 206.16 399.5 206.57 400 206.94 400.5 207.29 401 207.59 401.5 207.85 402 208.07 402.5 208.25 403 208.38 403.5 208.46 404 208.5 404.5 208.49 405 208.43 405.5 208.33 406 208.18 406.5 207.98 407 207.75 407.5 207.47 408 207.15 408.5 206.79 409 206.4 409.5 205.98 410 205.52 410.5 205.05 411 204.55 411.5 204.03 412 203.5 412.5 202.95 413 202.4 413.5 201.85 414 201.3 414.5 200.75 415 200.21 415.5 199.68 416 199.18 416.5 198.69 417 198.22 417.5 197.79 418 197.38 418.5 197.01 419 196.67 419.5 196.37 420 196.12 420.5 195.9 421 195.73 421.5 195.61 422 195.53 422.5 195.5 423 195.52 423.5 195.58 424 195.69 424.5 195.84 425 196.04 425.5 196.29 426 196.57 426.5 196.9 427 197.26 427.5 197.65 428 198.08 428.5 198.54 429 199.02 429.5 199.52 430 200.04 430.5 200.57 431 201.12 431.5 201.67 432 202.22 432.5 202.78 433 203.32 433.5 203.86 434 204.38 434.5 204.89 435 205.37 435.5 205.83 436 206.27 436.5 206.67 437 207.04 437.5 207.37 438 207.66 438.5 207.91 439 208.12 439.5 208.28 440 208.4 440.5 208.47 441 208.5 441.5 208.48 442 208.41 442.5 208.29 443 208.13 443.5 207.93 444 207.68 444.5 207.39 445 207.06 445.5 206.69 446 206.29 446.5 205.86 447 205.4 447.5 204.92 448 204.41 448.5 203.89 449 203.36 449.5 202.81 450 202.26 450.5 201.7 451 201.15 451.5 200.61 452 200.07 452.5 199.55 453 199.05 453.5 198.56 454 198.11 454.5 197.68 455 197.28 455.5 196.92 456 196.59 456.5 196.3 457 196.06 457.5 195.86 458 195.7 458.5 195.58 459 195.52 459.5 195.5 460 195.53 460.5 195.6 461 195.73 461.5 195.89 462 196.1 462.5 196.36 463 196.65 463.5 196.99 464 197.36 464.5 197.76 465 198.2 465.5 198.66 466 199.15 466.5 199.65 467 200.18 467.5 200.72 468 201.26 468.5 201.81 469 202.37 469.5 202.92 470 203.46 470.5 204 471 204.52 471.5 205.02 472 205.5 472.5 205.95 473 206.37 473.5 206.77 474 207.13 474.5 207.45 475 207.73 475.5 207.97 476 208.17 476.5 208.32 477 208.43 477.5 208.49 478 208.5 478.5 208.46 479 208.38 479.5 208.26 480 208.08 480.5 207.87 481 207.61 481.5 207.31 482 206.97 482.5 206.59 483 206.18 483.5 205.74 484 205.28 484.5 204.79 485 204.28 485.5 203.75 486 203.21 486.5 202.67 487 202.11 487.5 201.56 488 201.01 488.5 200.47 489 199.93 489.5 199.42 490 198.92 490.5 198.44 491 197.99 491.5 197.57 492 197.18 492.5 196.83 493 196.51 493.5 196.24 494 196 494.5 195.81 495 195.66 495.5 195.56 496 195.51 496.5 195.5 497 195.54 497.5 195.63 498 195.76 498.5 195.94 499 196.17 499.5 196.43 500 196.74 500.5 197.08" stroke="#f07a2c" stroke-width="1.65" fill="none" stroke-linejoin="round"/>
<path d="M32.5 208 37 208 37.3 206.61 37.68 204.8 38.13 202.65 38.64 200.24 39.18 197.66 39.75 194.98 40.34 192.29 40.91 189.68 41.47 187.22 42 185 42.51 182.84 43.03 180.56 43.55 178.22 44.08 175.91 44.61 173.69 45.13 171.63 45.64 169.81 46.14 168.3 46.63 167.18 47.1 166.5 47.67 166.53 48.21 167.5 48.75 169.11 49.26 171.06 49.77 173.07 50.25 174.84 50.73 176.08 51.2 176.5 51.79 175.86 52.34 174.37 52.87 172.28 53.39 169.84 53.93 167.33 54.5 165 55.02 162.84 55.55 160.26 56.1 157.52 56.65 154.91 57.21 152.7 57.76 151.17 58.3 150.6 58.83 151.1 59.36 152.45 59.88 154.46 60.4 156.93 60.92 159.64 61.46 162.4 62 165 62.49 167.28 62.99 169.76 63.5 172.38 64.01 175.07 64.52 177.74 65.03 180.34 65.52 182.78 66 185 66.53 187.46 67.05 189.98 67.56 192.41 68.06 194.6 68.55 196.42 69.03 197.7 69.5 198.3 70.03 197.9 70.54 196.46 71.04 194.37 71.53 192 72.02 189.75 72.5 188 73.08 186.3 73.66 184.63 74.23 183.19 74.78 182.18 75.3 181.8 75.9 182.55 76.45 184.31 76.98 186.37 77.5 188 78 189.14 78.48 190.12 78.97 190.85 79.5 191.2 79.98 191.08 80.49 190.64 81.01 190.03 81.52 189.43 82 189 82.51 188.52 82.97 188.03 83.44 187.85 84 188.3 84.43 189.1 84.88 190.25 85.36 191.63 85.87 193.13 86.42 194.63 87 196 87.46 197 87.95 198.06 88.46 199.14 88.99 200.21 89.53 201.23 90.08 202.16 90.64 202.96 91.2 203.6 91.71 204.02 92.23 204.31 92.77 204.5 93.31 204.61 93.85 204.66 94.4 204.68 94.94 204.67 95.48 204.67 96 204.7 96.52 204.74 97.04 204.76 97.56 204.78 98.08 204.77 98.59 204.74 99.09 204.7 99.57 204.62 100.05 204.53 100.5 204.4 101.07 204.17 101.65 203.87 102.2 203.51 102.73 203.14 103.21 202.77 103.64 202.43 104 202.15 104.72 201.44 105 201.02 105.5 200.47 106 199.94 106.5 199.45 107 198.98 107.5 198.55 108 198.15 108.5 197.81 109 197.5 109.5 197.25 110 197.06 110.5 196.91 111 196.83 111.5 196.8 112 196.83 112.5 196.91 113 197.06 113.5 197.25 114 197.5 114.5 197.81 115 198.15 115.5 198.55 116 198.98 116.5 199.45 117 199.94 117.5 200.47 118 201.02 118.5 201.58 119 202.15 119.5 202.72 120 203.3 120.5 203.86 121 204.41 121.5 204.95 122 205.46 122.5 205.94 123 206.39 123.5 206.79 124 207.16 124.5 207.48 125 207.75 125.5 207.97 126 208.14 126.5 208.24 127 208.3 127.5 208.29 128 208.23 128.5 208.11 129 207.93 129.5 207.7 130 207.42 130.5 207.09 131 206.72 131.5 206.3 132 205.85 132.5 205.36 133 204.84 133.5 204.3 134 203.75 134.5 203.18 135 202.61 135.5 202.03 136 201.46 136.5 200.9 137 200.36 137.5 199.84 138 199.35 138.5 198.89 139 198.46 139.5 198.08 140 197.74 140.5 197.45 141 197.21 141.5 197.02 142 196.89 142.5 196.82 143 196.8 143.5 196.84 144 196.94 144.5 197.09 145 197.3 145.5 197.56 146 197.87 146.5 198.23 147 198.63 147.5 199.07 148 199.54 148.5 200.05 149 200.58 149.5 201.13 150 201.69 150.5 202.26 151 202.84 151.5 203.41 152 203.97 152.5 204.52 153 205.05 153.5 205.56 154 206.03 154.5 206.47 155 206.87 155.5 207.23 156 207.54 156.5 207.8 157 208.01 157.5 208.16 158 208.26 158.5 208.3 159 208.28 159.5 208.21 160 208.08 160.5 207.89 161 207.65 161.5 207.36 162 207.02 162.5 206.64 163 206.21 163.5 205.75 164 205.26 164.5 204.74 165 204.2 165.5 203.64 166 203.07 166.5 202.49 167 201.92 167.5 201.35 168 200.8 168.5 200.26 169 199.74 169.5 199.25 170 198.8 170.5 198.38 171 198.01 171.5 197.68 172 197.4 172.5 197.17 173 196.99 173.5 196.87 174 196.81 174.5 196.8 175 196.86 175.5 196.96 176 197.13 176.5 197.35 177 197.62 177.5 197.94 178 198.31 178.5 198.71 179 199.16 179.5 199.64 180 200.15 180.5 200.69 181 201.24 181.5 201.8 182 202.38 182.5 202.95 183 203.52 183.5 204.08 184 204.63 184.5 205.16 185 205.65 185.5 206.12 186 206.55 186.5 206.95 187 207.29 187.5 207.6 188 207.85 188.5 208.04 189 208.19 189.5 208.27 190 208.3 190.5 208.27 191 208.19 191.5 208.04 192 207.85 192.5 207.6 193 207.29 193.5 206.95 194 206.55 194.5 206.12 195 205.65 195.5 205.16 196 204.63 196.5 204.08 197 203.52 197.5 202.95 198 202.38 198.5 201.8 199 201.24 199.5 200.69 200 200.15 200.5 199.64 201 199.16 201.5 198.71 202 198.31 202.5 197.94 203 197.62 203.5 197.35 204 197.13 204.5 196.96 205 196.86 205.5 196.8 206 196.81 206.5 196.87 207 196.99 207.5 197.17 208 197.4 208.5 197.68 209 198.01 209.5 198.38 210 198.8 210.5 199.25 211 199.74 211.5 200.26 212 200.8 212.5 201.35 213 201.92 213.5 202.49 214 203.07 214.5 203.64 215 204.2 215.5 204.74 216 205.26 216.5 205.75 217 206.21 217.5 206.64 218 207.02 218.5 207.36 219 207.65 219.5 207.89 220 208.08 220.5 208.21 221 208.28 221.5 208.3 222 208.26 222.5 208.16 223 208.01 223.5 207.8 224 207.54 224.5 207.23 225 206.87 225.5 206.47 226 206.03 226.5 205.56 227 205.05 227.5 204.52 228 203.97 228.5 203.41 229 202.84 229.5 202.26 230 201.69 230.5 201.13 231 200.58 231.5 200.05 232 199.54 232.5 199.07 233 198.63 233.5 198.23 234 197.87 234.5 197.56 235 197.3 235.5 197.09 236 196.94 236.5 196.84 237 196.8 237.5 196.82 238 196.89 238.5 197.02 239 197.21 239.5 197.45 240 197.74 240.5 198.08 241 198.46 241.5 198.89 242 199.35 242.5 199.84 243 200.36 243.5 200.9 244 201.46 244.5 202.03 245 202.61 245.5 203.18 246 203.75 246.5 204.3 247 204.84 247.5 205.36 248 205.85 248.5 206.3 249 206.72 249.5 207.09 250 207.42 250.5 207.7 251 207.93 251.5 208.11 252 208.23 252.5 208.29 253 208.3 253.5 208.24 254 208.14 254.5 207.97 255 207.75 255.5 207.48 256 207.16 256.5 206.79 257 206.39 257.5 205.94 258 205.46 258.5 204.95 259 204.41 259.5 203.86 260 203.3 260.5 202.72 261 202.15 261.5 201.58 262 201.02 262.5 200.47 263 199.94 263.5 199.45 264 203.85 264.5 203.32 265 202.77 265.5 202.22 266 201.67 266.5 201.12 267 200.57 267.5 200.03 268 199.51 268.5 199 269 198.51 269.5 198.04 270 197.6 270.5 197.2 271 196.82 271.5 196.49 272 196.19 272.5 195.93 273 195.71 273.5 195.54 274 195.41 274.5 195.33 275 195.3 275.5 195.32 276 195.38 276.5 195.48 277 195.64 277.5 195.84 278 196.08 278.5 196.36 279 196.68 279.5 197.04 280 197.44 280.5 197.86 281 198.32 281.5 198.8 282 199.3 282.5 199.82 283 200.35 283.5 200.9 284 201.45 284.5 202 285 202.55 285.5 203.1 286 203.64 286.5 204.16 287 204.67 287.5 205.15 288 205.62 288.5 206.05 289 206.45 289.5 206.82 290 207.16 290.5 207.45 291 207.7 291.5 207.91 292 208.08 292.5 208.2 293 208.27 293.5 208.3 294 208.28 294.5 208.21 295 208.1 295.5 207.94 296 207.73 296.5 207.49 297 207.2 297.5 206.87 298 206.51 298.5 206.11 299 205.68 299.5 205.22 300 204.74 300.5 204.23 301 203.71 301.5 203.18 302 202.63 302.5 202.08 303 201.53 303.5 200.97 304 200.43 304.5 199.89 305 199.37 305.5 198.87 306 198.38 306.5 197.93 307 197.5 307.5 197.1 308 196.73 308.5 196.4 309 196.11 309.5 195.87 310 195.66 310.5 195.5 311 195.39 311.5 195.32 312 195.3 312.5 195.33 313 195.4 313.5 195.52 314 195.69 314.5 195.89 315 196.15 315.5 196.44 316 196.77 316.5 197.14 317 197.55 317.5 197.98 318 198.44 318.5 198.93 319 199.43 319.5 199.96 320 200.49 320.5 201.04 321 201.59 321.5 202.15 322 202.7 322.5 203.24 323 203.78 323.5 204.3 324 204.8 324.5 205.28 325 205.73 325.5 206.16 326 206.55 326.5 206.91 327 207.24 327.5 207.52 328 207.76 328.5 207.96 329 208.11 329.5 208.22 330 208.28 330.5 208.3 331 208.27 331.5 208.19 332 208.06 332.5 207.89 333 207.67 333.5 207.42 334 207.12 334.5 206.78 335 206.41 335.5 206 336 205.56 336.5 205.1 337 204.61 337.5 204.1 338 203.57 338.5 203.04 339 202.49 339.5 201.94 340 201.38 340.5 200.83 341 200.29 341.5 199.76 342 199.24 342.5 198.74 343 198.26 343.5 197.81 344 197.39 344.5 197 345 196.64 345.5 196.32 346 196.05 346.5 195.81 347 195.62 347.5 195.47 348 195.37 348.5 195.31 349 195.3 349.5 195.34 350 195.43 350.5 195.56 351 195.74 351.5 195.96 352 196.22 352.5 196.52 353 196.87 353.5 197.24 354 197.66 354.5 198.1 355 198.56 355.5 199.06 356 199.57 356.5 200.09 357 200.63 357.5 201.18 358 201.74 358.5 202.29 359 202.84 359.5 203.38 360 203.91 360.5 204.43 361 204.92 361.5 205.4 362 205.85 362.5 206.26 363 206.65 363.5 207 364 207.31 364.5 207.59 365 207.82 365.5 208 366 208.15 366.5 208.24 367 208.29 367.5 208.3 368 208.25 368.5 208.16 369 208.02 369.5 207.84 370 207.61 370.5 207.34 371 207.03 371.5 206.69 372 206.3 372.5 205.89 373 205.44 373.5 204.97 374 204.48 374.5 203.96 375 203.44 375.5 202.89 376 202.34 376.5 201.79 377 201.24 377.5 200.69 378 200.15 378.5 199.62 379 199.11 379.5 198.61 380 198.14 380.5 197.7 381 197.28 381.5 196.9 382 196.56 382.5 196.25 383 195.98 383.5 195.76 384 195.57 384.5 195.44 385 195.35 385.5 195.3 386 195.31 386.5 195.36 387 195.46 387.5 195.6 388 195.79 388.5 196.02 389 196.3 389.5 196.61 390 196.96 390.5 197.35 391 197.77 391.5 198.22 392 198.69 392.5 199.19 393 199.7 393.5 200.23 394 200.78 394.5 201.33 395 201.88 395.5 202.43 396 202.98 396.5 203.52 397 204.05 397.5 204.56 398 205.05 398.5 205.52 399 205.96 399.5 206.37 400 206.74 400.5 207.09 401 207.39 401.5 207.65 402 207.87 402.5 208.05 403 208.18 403.5 208.26 404 208.3 404.5 208.29 405 208.23 405.5 208.13 406 207.98 406.5 207.78 407 207.55 407.5 207.27 408 206.95 408.5 206.59 409 206.2 409.5 205.78 410 205.32 410.5 204.85 411 204.35 411.5 203.83 412 203.3 412.5 202.75 413 202.2 413.5 201.65 414 201.1 414.5 200.55 415 200.01 415.5 199.48 416 198.98 416.5 198.49 417 198.02 417.5 197.59 418 197.18 418.5 196.81 419 196.47 419.5 196.17 420 195.92 420.5 195.7 421 195.53 421.5 195.41 422 195.33 422.5 195.3 423 195.32 423.5 195.38 424 195.49 424.5 195.64 425 195.84 425.5 196.09 426 196.37 426.5 196.7 427 197.06 427.5 197.45 428 197.88 428.5 198.34 429 198.82 429.5 199.32 430 199.84 430.5 200.37 431 200.92 431.5 201.47 432 202.02 432.5 202.58 433 203.12 433.5 203.66 434 204.18 434.5 204.69 435 205.17 435.5 205.63 436 206.07 436.5 206.47 437 206.84 437.5 207.17 438 207.46 438.5 207.71 439 207.92 439.5 208.08 440 208.2 440.5 208.27 441 208.3 441.5 208.28 442 208.21 442.5 208.09 443 207.93 443.5 207.73 444 207.48 444.5 207.19 445 206.86 445.5 206.49 446 206.09 446.5 205.66 447 205.2 447.5 204.72 448 204.21 448.5 203.69 449 203.16 449.5 202.61 450 202.06 450.5 201.5 451 200.95 451.5 200.41 452 199.87 452.5 199.35 453 198.85 453.5 198.36 454 197.91 454.5 197.48 455 197.08 455.5 196.72 456 196.39 456.5 196.1 457 195.86 457.5 195.66 458 195.5 458.5 195.38 459 195.32 459.5 195.3 460 195.33 460.5 195.4 461 195.53 461.5 195.69 462 195.9 462.5 196.16 463 196.45 463.5 196.79 464 197.16 464.5 197.56 465 198 465.5 198.46 466 198.95 466.5 199.45 467 199.98 467.5 200.52 468 201.06 468.5 201.61 469 202.17 469.5 202.72 470 203.26 470.5 203.8 471 204.32 471.5 204.82 472 205.3 472.5 205.75 473 206.17 473.5 206.57 474 206.93 474.5 207.25 475 207.53 475.5 207.77 476 207.97 476.5 208.12 477 208.23 477.5 208.29 478 208.3 478.5 208.26 479 208.18 479.5 208.06 480 207.88 480.5 207.67 481 207.41 481.5 207.11 482 206.77 482.5 206.39 483 205.98 483.5 205.54 484 205.08 484.5 204.59 485 204.08 485.5 203.55 486 203.01 486.5 202.47 487 201.91 487.5 201.36 488 200.81 488.5 200.27 489 199.73 489.5 199.22 490 198.72 490.5 198.24 491 197.79 491.5 197.37 492 196.98 492.5 196.63 493 196.31 493.5 196.04 494 195.8 494.5 195.61 495 195.46 495.5 195.36 496 195.31 496.5 195.3 497 195.34 497.5 195.43 498 195.56 498.5 195.74 499 195.97 499.5 196.23 500 196.54 500.5 196.88" stroke="#3fcf3f" stroke-width="1.65" fill="none" stroke-linejoin="round"/>
<path d="M32.5 210 37 210 37.29 208.19 37.66 205.82 38.09 203 38.58 199.85 39.11 196.47 39.67 192.97 40.25 189.47 40.84 186.06 41.42 182.87 42 180 42.49 177.72 43.01 175.36 43.55 172.96 44.11 170.57 44.67 168.23 45.24 165.97 45.81 163.84 46.36 161.87 46.89 160.11 47.4 158.61 47.87 157.39 48.3 156.5 48.95 156.02 49.51 156.74 50.01 158.21 50.47 160 50.9 161.69 51.34 162.83 51.8 163 52.34 161.95 52.86 160.09 53.37 157.67 53.89 155 54.43 152.35 55 150 55.52 147.99 56.07 145.72 56.64 143.39 57.21 141.21 57.79 139.4 58.35 138.16 58.9 137.7 59.43 138.08 59.95 139.14 60.47 140.74 60.98 142.76 61.49 145.06 61.99 147.52 62.5 150 63 152.66 63.49 155.67 63.98 158.92 64.47 162.29 64.97 165.67 65.47 168.95 66 172 66.48 174.68 66.99 177.53 67.51 180.41 68.03 183.21 68.55 185.77 69.06 187.96 69.54 189.65 70 190.7 70.57 190.92 71.1 190 71.61 188.35 72.09 186.37 72.55 184.45 73 183 73.63 181.23 74.2 179.47 74.75 178.15 75.3 177.7 75.86 178.53 76.42 180.32 76.97 182.38 77.5 184 78 185.19 78.48 186.26 78.97 186.98 79.5 187.1 79.97 186.56 80.48 185.53 81 184.25 81.51 182.98 82 182 82.56 180.89 83.08 179.78 83.61 179.15 84.2 179.5 84.72 180.78 85.27 182.79 85.84 185.21 86.42 187.72 87 190 87.5 191.76 88.01 193.59 88.53 195.39 89.04 197.11 89.53 198.67 90 200 90.61 201.55 91.16 202.71 91.73 203.56 92.4 204.2 92.84 204.45 93.31 204.59 93.81 204.63 94.33 204.62 94.87 204.57 95.43 204.52 96 204.5 96.47 204.5 96.96 204.5 97.47 204.5 97.99 204.49 98.52 204.47 99.04 204.44 99.55 204.38 100.04 204.3 100.5 204.2 101.07 204.01 101.65 203.76 102.2 203.48 102.73 203.17 103.21 202.87 103.64 202.59 104 202.35 104.72 201.67 105 201.22 105.5 200.67 106 200.14 106.5 199.65 107 199.18 107.5 198.75 108 198.35 108.5 198.01 109 197.7 109.5 197.45 110 197.26 110.5 197.11 111 197.03 111.5 197 112 197.03 112.5 197.11 113 197.26 113.5 197.45 114 197.7 114.5 198.01 115 198.35 115.5 198.75 116 199.18 116.5 199.65 117 200.14 117.5 200.67 118 201.22 118.5 201.78 119 202.35 119.5 202.92 120 203.5 120.5 204.06 121 204.61 121.5 205.15 122 205.66 122.5 206.14 123 206.59 123.5 206.99 124 207.36 124.5 207.68 125 207.95 125.5 208.17 126 208.34 126.5 208.44 127 208.5 127.5 208.49 128 208.43 128.5 208.31 129 208.13 129.5 207.9 130 207.62 130.5 207.29 131 206.92 131.5 206.5 132 206.05 132.5 205.56 133 205.04 133.5 204.5 134 203.95 134.5 203.38 135 202.81 135.5 202.23 136 201.66 136.5 201.1 137 200.56 137.5 200.04 138 199.55 138.5 199.09 139 198.66 139.5 198.28 140 197.94 140.5 197.65 141 197.41 141.5 197.22 142 197.09 142.5 197.02 143 197 143.5 197.04 144 197.14 144.5 197.29 145 197.5 145.5 197.76 146 198.07 146.5 198.43 147 198.83 147.5 199.27 148 199.74 148.5 200.25 149 200.78 149.5 201.33 150 201.89 150.5 202.46 151 203.04 151.5 203.61 152 204.17 152.5 204.72 153 205.25 153.5 205.76 154 206.23 154.5 206.67 155 207.07 155.5 207.43 156 207.74 156.5 208 157 208.21 157.5 208.36 158 208.46 158.5 208.5 159 208.48 159.5 208.41 160 208.28 160.5 208.09 161 207.85 161.5 207.56 162 207.22 162.5 206.84 163 206.41 163.5 205.95 164 205.46 164.5 204.94 165 204.4 165.5 203.84 166 203.27 166.5 202.69 167 202.12 167.5 201.55 168 201 168.5 200.46 169 199.94 169.5 199.45 170 199 170.5 198.58 171 198.21 171.5 197.88 172 197.6 172.5 197.37 173 197.19 173.5 197.07 174 197.01 174.5 197 175 197.06 175.5 197.16 176 197.33 176.5 197.55 177 197.82 177.5 198.14 178 198.51 178.5 198.91 179 199.36 179.5 199.84 180 200.35 180.5 200.89 181 201.44 181.5 202 182 202.58 182.5 203.15 183 203.72 183.5 204.28 184 204.83 184.5 205.36 185 205.85 185.5 206.32 186 206.75 186.5 207.15 187 207.49 187.5 207.8 188 208.05 188.5 208.24 189 208.39 189.5 208.47 190 208.5 190.5 208.47 191 208.39 191.5 208.24 192 208.05 192.5 207.8 193 207.49 193.5 207.15 194 206.75 194.5 206.32 195 205.85 195.5 205.36 196 204.83 196.5 204.28 197 203.72 197.5 203.15 198 202.58 198.5 202 199 201.44 199.5 200.89 200 200.35 200.5 199.84 201 199.36 201.5 198.91 202 198.51 202.5 198.14 203 197.82 203.5 197.55 204 197.33 204.5 197.16 205 197.06 205.5 197 206 197.01 206.5 197.07 207 197.19 207.5 197.37 208 197.6 208.5 197.88 209 198.21 209.5 198.58 210 199 210.5 199.45 211 199.94 211.5 200.46 212 201 212.5 201.55 213 202.12 213.5 202.69 214 203.27 214.5 203.84 215 204.4 215.5 204.94 216 205.46 216.5 205.95 217 206.41 217.5 206.84 218 207.22 218.5 207.56 219 207.85 219.5 208.09 220 208.28 220.5 208.41 221 208.48 221.5 208.5 222 208.46 222.5 208.36 223 208.21 223.5 208 224 207.74 224.5 207.43 225 207.07 225.5 206.67 226 206.23 226.5 205.76 227 205.25 227.5 204.72 228 204.17 228.5 203.61 229 203.04 229.5 202.46 230 201.89 230.5 201.33 231 200.78 231.5 200.25 232 199.74 232.5 199.27 233 198.83 233.5 198.43 234 198.07 234.5 197.76 235 197.5 235.5 197.29 236 197.14 236.5 197.04 237 197 237.5 197.02 238 197.09 238.5 197.22 239 197.41 239.5 197.65 240 197.94 240.5 198.28 241 198.66 241.5 199.09 242 199.55 242.5 200.04 243 200.56 243.5 201.1 244 201.66 244.5 202.23 245 202.81 245.5 203.38 246 203.95 246.5 204.5 247 205.04 247.5 205.56 248 206.05 248.5 206.5 249 206.92 249.5 207.29 250 207.62 250.5 207.9 251 208.13 251.5 208.31 252 208.43 252.5 208.49 253 208.5 253.5 208.44 254 208.34 254.5 208.17 255 207.95 255.5 207.68 256 207.36 256.5 206.99 257 206.59 257.5 206.14 258 205.66 258.5 205.15 259 204.61 259.5 204.06 260 203.5 260.5 202.92 261 202.35 261.5 201.78 262 201.22 262.5 200.67 263 200.14 263.5 199.65 264 204.05 264.5 203.52 265 202.97 265.5 202.42 266 201.87 266.5 201.32 267 200.77 267.5 200.23 268 199.71 268.5 199.2 269 198.71 269.5 198.24 270 197.8 270.5 197.4 271 197.02 271.5 196.69 272 196.39 272.5 196.13 273 195.91 273.5 195.74 274 195.61 274.5 195.53 275 195.5 275.5 195.52 276 195.58 276.5 195.68 277 195.84 277.5 196.04 278 196.28 278.5 196.56 279 196.88 279.5 197.24 280 197.64 280.5 198.06 281 198.52 281.5 199 282 199.5 282.5 200.02 283 200.55 283.5 201.1 284 201.65 284.5 202.2 285 202.75 285.5 203.3 286 203.84 286.5 204.36 287 204.87 287.5 205.35 288 205.82 288.5 206.25 289 206.65 289.5 207.02 290 207.36 290.5 207.65 291 207.9 291.5 208.11 292 208.28 292.5 208.4 293 208.47 293.5 208.5 294 208.48 294.5 208.41 295 208.3 295.5 208.14 296 207.93 296.5 207.69 297 207.4 297.5 207.07 298 206.71 298.5 206.31 299 205.88 299.5 205.42 300 204.94 300.5 204.43 301 203.91 301.5 203.38 302 202.83 302.5 202.28 303 201.73 303.5 201.17 304 200.63 304.5 200.09 305 199.57 305.5 199.07 306 198.58 306.5 198.13 307 197.7 307.5 197.3 308 196.93 308.5 196.6 309 196.31 309.5 196.07 310 195.86 310.5 195.7 311 195.59 311.5 195.52 312 195.5 312.5 195.53 313 195.6 313.5 195.72 314 195.89 314.5 196.09 315 196.35 315.5 196.64 316 196.97 316.5 197.34 317 197.75 317.5 198.18 318 198.64 318.5 199.13 319 199.63 319.5 200.16 320 200.69 320.5 201.24 321 201.79 321.5 202.35 322 202.9 322.5 203.44 323 203.98 323.5 204.5 324 205 324.5 205.48 325 205.93 325.5 206.36 326 206.75 326.5 207.11 327 207.44 327.5 207.72 328 207.96 328.5 208.16 329 208.31 329.5 208.42 330 208.48 330.5 208.5 331 208.47 331.5 208.39 332 208.26 332.5 208.09 333 207.87 333.5 207.62 334 207.32 334.5 206.98 335 206.61 335.5 206.2 336 205.76 336.5 205.3 337 204.81 337.5 204.3 338 203.77 338.5 203.24 339 202.69 339.5 202.14 340 201.58 340.5 201.03 341 200.49 341.5 199.96 342 199.44 342.5 198.94 343 198.46 343.5 198.01 344 197.59 344.5 197.2 345 196.84 345.5 196.52 346 196.25 346.5 196.01 347 195.82 347.5 195.67 348 195.57 348.5 195.51 349 195.5 349.5 195.54 350 195.63 350.5 195.76 351 195.94 351.5 196.16 352 196.42 352.5 196.72 353 197.07 353.5 197.44 354 197.86 354.5 198.3 355 198.76 355.5 199.26 356 199.77 356.5 200.29 357 200.83 357.5 201.38 358 201.94 358.5 202.49 359 203.04 359.5 203.58 360 204.11 360.5 204.63 361 205.12 361.5 205.6 362 206.05 362.5 206.46 363 206.85 363.5 207.2 364 207.51 364.5 207.79 365 208.02 365.5 208.2 366 208.35 366.5 208.44 367 208.49 367.5 208.5 368 208.45 368.5 208.36 369 208.22 369.5 208.04 370 207.81 370.5 207.54 371 207.23 371.5 206.89 372 206.5 372.5 206.09 373 205.64 373.5 205.17 374 204.68 374.5 204.16 375 203.64 375.5 203.09 376 202.54 376.5 201.99 377 201.44 377.5 200.89 378 200.35 378.5 199.82 379 199.31 379.5 198.81 380 198.34 380.5 197.9 381 197.48 381.5 197.1 382 196.76 382.5 196.45 383 196.18 383.5 195.96 384 195.77 384.5 195.64 385 195.55 385.5 195.5 386 195.51 386.5 195.56 387 195.66 387.5 195.8 388 195.99 388.5 196.22 389 196.5 389.5 196.81 390 197.16 390.5 197.55 391 197.97 391.5 198.42 392 198.89 392.5 199.39 393 199.9 393.5 200.43 394 200.98 394.5 201.53 395 202.08 395.5 202.63 396 203.18 396.5 203.72 397 204.25 397.5 204.76 398 205.25 398.5 205.72 399 206.16 399.5 206.57 400 206.94 400.5 207.29 401 207.59 401.5 207.85 402 208.07 402.5 208.25 403 208.38 403.5 208.46 404 208.5 404.5 208.49 405 208.43 405.5 208.33 406 208.18 406.5 207.98 407 207.75 407.5 207.47 408 207.15 408.5 206.79 409 206.4 409.5 205.98 410 205.52 410.5 205.05 411 204.55 411.5 204.03 412 203.5 412.5 202.95 413 202.4 413.5 201.85 414 201.3 414.5 200.75 415 200.21 415.5 199.68 416 199.18 416.5 198.69 417 198.22 417.5 197.79 418 197.38 418.5 197.01 419 196.67 419.5 196.37 420 196.12 420.5 195.9 421 195.73 421.5 195.61 422 195.53 422.5 195.5 423 195.52 423.5 195.58 424 195.69 424.5 195.84 425 196.04 425.5 196.29 426 196.57 426.5 196.9 427 197.26 427.5 197.65 428 198.08 428.5 198.54 429 199.02 429.5 199.52 430 200.04 430.5 200.57 431 201.12 431.5 201.67 432 202.22 432.5 202.78 433 203.32 433.5 203.86 434 204.38 434.5 204.89 435 205.37 435.5 205.83 436 206.27 436.5 206.67 437 207.04 437.5 207.37 438 207.66 438.5 207.91 439 208.12 439.5 208.28 440 208.4 440.5 208.47 441 208.5 441.5 208.48 442 208.41 442.5 208.29 443 208.13 443.5 207.93 444 207.68 444.5 207.39 445 207.06 445.5 206.69 446 206.29 446.5 205.86 447 205.4 447.5 204.92 448 204.41 448.5 203.89 449 203.36 449.5 202.81 450 202.26 450.5 201.7 451 201.15 451.5 200.61 452 200.07 452.5 199.55 453 199.05 453.5 198.56 454 198.11 454.5 197.68 455 197.28 455.5 196.92 456 196.59 456.5 196.3 457 196.06 457.5 195.86 458 195.7 458.5 195.58 459 195.52 459.5 195.5 460 195.53 460.5 195.6 461 195.73 461.5 195.89 462 196.1 462.5 196.36 463 196.65 463.5 196.99 464 197.36 464.5 197.76 465 198.2 465.5 198.66 466 199.15 466.5 199.65 467 200.18 467.5 200.72 468 201.26 468.5 201.81 469 202.37 469.5 202.92 470 203.46 470.5 204 471 204.52 471.5 205.02 472 205.5 472.5 205.95 473 206.37 473.5 206.77 474 207.13 474.5 207.45 475 207.73 475.5 207.97 476 208.17 476.5 208.32 477 208.43 477.5 208.49 478 208.5 478.5 208.46 479 208.38 479.5 208.26 480 208.08 480.5 207.87 481 207.61 481.5 207.31 482 206.97 482.5 206.59 483 206.18 483.5 205.74 484 205.28 484.5 204.79 485 204.28 485.5 203.75 486 203.21 486.5 202.67 487 202.11 487.5 201.56 488 201.01 488.5 200.47 489 199.93 489.5 199.42 490 198.92 490.5 198.44 491 197.99 491.5 197.57 492 197.18 492.5 196.83 493 196.51 493.5 196.24 494 196 494.5 195.81 495 195.66 495.5 195.56 496 195.51 496.5 195.5 497 195.54 497.5 195.63 498 195.76 498.5 195.94 499 196.17 499.5 196.43 500 196.74 500.5 197.08" stroke="#c15af8" stroke-width="1.65" fill="none" stroke-linejoin="round"/>
</g>
<rect x="32.5" y="73.5" width="468" height="167" fill="none" stroke="#d9d9d9" stroke-width="1"/>
<text x="27.5" y="244.1" text-anchor="end" class="tk">0</text>
<text x="27.5" y="184.1" text-anchor="end" class="tk">20</text>
<text x="27.5" y="125.1" text-anchor="end" class="tk">40</text>
<text x="265.8" y="68" text-anchor="middle" class="ti">velocity</text>
<rect x="556" y="73" width="468" height="168" fill="#131313"/>
<path d="M649.5 74V240M743.5 74V240M836.5 74V240M930.5 74V240M557 226.5H1023M557 192.5H1023M557 158.5H1023M557 124.5H1023M557 90.5H1023" stroke="#454545" stroke-width="1" fill="none"/>
<path d="M649.5 74v5.5M649.5 240v-5.5M743.5 74v5.5M743.5 240v-5.5M836.5 74v5.5M836.5 240v-5.5M930.5 74v5.5M930.5 240v-5.5M603.5 74v3M603.5 240v-3M696.5 74v3M696.5 240v-3M790.5 74v3M790.5 240v-3M883.5 74v3M883.5 240v-3M976.5 74v3M976.5 240v-3M557 226.5h5.5M1023 226.5h-5.5M557 192.5h5.5M1023 192.5h-5.5M557 158.5h5.5M1023 158.5h-5.5M557 124.5h5.5M1023 124.5h-5.5M557 90.5h5.5M1023 90.5h-5.5M557 209.5h3M1023 209.5h-3M557 175.5h3M1023 175.5h-3M557 141.5h3M1023 141.5h-3M557 107.5h3M1023 107.5h-3" stroke="#d9d9d9" stroke-width="1" fill="none"/>
<clipPath id="cg"><rect x="557" y="74" width="466" height="166"/></clipPath>
<g clip-path="url(#cg)">
<path d="M556.5 219.7 1023.5 219.7" stroke="#f6e060" stroke-width="1.9" fill="none" stroke-linejoin="round"/>
<path d="M556.5 220.98H561.17V223.7H565.84V223.02H570.51V204.66H575.18V217.58H579.85V227.44H584.52V218.94H589.19V212.82H593.86V223.02H598.53V215.81H603.2V220.71H607.87V219.21H612.54V220.98H617.21V222.61H621.88V222.61H626.55V220.3H631.22V221.66H635.89V222.34H640.56V222.34H645.23V221.66H649.9V220.98H654.57V220.3H659.24V220.3H663.91V221.66H668.58V221.66H673.25V221.66H677.92V221.66H682.59V221.66H687.26V220.3H691.93V220.98H696.6V221.66H701.27V221.66H705.94V221.66H710.61V221.66H715.28V220.98H719.95V220.3H724.62V220.98H729.29V220.98H733.96V221.66H738.63V222.34H743.3V222.34H747.97V220.98H752.64V220.3H757.31V220.98H761.98V220.98H766.65V220.98H771.32V222.34H775.99V222.34H780.66V221.66H785.33V220.98H790V220.3H794.67V220.98H799.34V221.66H804.01V222.34H808.68V221.66H813.35V222.34H818.02V220.98H822.69V220.3H827.36V220.98H832.03V220.98H836.7V221.66H841.37V222.34H846.04V221.66H850.71V221.66H855.38V220.98H860.05V220.98H864.72V220.3H869.39V221.66H874.06V222.34H878.73V221.66H883.4V220.98H888.07V220.3H892.74V220.3H897.41V220.98H902.08V220.98H906.75V221.66H911.42V222.34H916.09V221.66H920.76V220.98H925.43V220.98H930.1V220.3H934.77V220.98H939.44V221.66H944.11V222.34H948.78V221.66H953.45V221.66H958.12V220.98H962.79V220.3H967.46V220.98H972.13V221.66H976.8V221.66H981.47V221.66H986.14V220.98H990.81V220.98H995.48V220.3H1000.15V220.98H1004.82V220.98H1009.49V222.34H1014.16V222.34H1018.83V221.66H1023.5" stroke="#f07a2c" stroke-width="1.9" fill="none"/>
<path d="M556.5 226.5H561.17V204.06H565.84V188.42H570.51V185.7H575.18V180.26H579.85V185.7H584.52V192.5H589.19V197.94H593.86V202.02H598.53V206.1H603.2V205.42H607.87V210.18H612.54V214.26H617.21V213.92H621.88V213.92H626.55V213.58H631.22V210.86H635.89V212.9H640.56V212.9H645.23V213.58H649.9V214.26H654.57V214.26H659.24V214.94H663.91V215.62H668.58V215.62H673.25V213.58H677.92V214.26H682.59V215.62H687.26V214.26H691.93V211.54H696.6V210.18H701.27V210.18H705.94V212.9H710.61V214.26H715.28V214.26H719.95V214.26H724.62V212.9H729.29V211.54H733.96V210.18H738.63V211.54H743.3V212.9H747.97V215.62H752.64V215.62H757.31V214.26H761.98V211.54H766.65V210.18H771.32V210.18H775.99V212.9H780.66V214.26H785.33V215.62H790V214.26H794.67V212.9H799.34V211.54H804.01V210.18H808.68V212.9H813.35V214.26H818.02V214.26H822.69V214.26H827.36V212.9H832.03V210.18H836.7V210.18H841.37V211.54H846.04V214.26H850.71V214.26H855.38V214.26H860.05V212.9H864.72V210.18H869.39V210.18H874.06V211.54H878.73V214.26H883.4V215.62H888.07V215.62H892.74V214.26H897.41V211.54H902.08V211.54H906.75V210.18H911.42V212.9H916.09V214.26H920.76V215.62H925.43V214.26H930.1V212.9H934.77V210.18H939.44V210.18H944.11V212.9H948.78V212.9H953.45V215.62H958.12V214.26H962.79V212.9H967.46V211.54H972.13V210.18H976.8V211.54H981.47V212.9H986.14V215.62H990.81V215.62H995.48V214.26H1000.15V211.54H1004.82V211.54H1009.49V210.18H1014.16V211.54H1018.83V214.26H1023.5" stroke="#2f8fe6" stroke-width="1.9" fill="none"/>
</g>
<rect x="556.5" y="73.5" width="467" height="167" fill="none" stroke="#d9d9d9" stroke-width="1"/>
<text x="551.5" y="230.1" text-anchor="end" class="tk">0</text>
<text x="551.5" y="196.1" text-anchor="end" class="tk">5</text>
<text x="551.5" y="162.1" text-anchor="end" class="tk">10</text>
<text x="551.5" y="128.1" text-anchor="end" class="tk">15</text>
<text x="551.5" y="94.1" text-anchor="end" class="tk">20</text>
<text x="789.3" y="68" text-anchor="middle" class="ti">gains</text>
<rect x="32" y="296" width="469" height="168" fill="#131313"/>
<path d="M126.5 297V463M219.5 297V463M313.5 297V463M406.5 297V463M33 418.5H500M33 374.5H500M33 329.5H500" stroke="#454545" stroke-width="1" fill="none"/>
<path d="M126.5 297v5.5M126.5 463v-5.5M219.5 297v5.5M219.5 463v-5.5M313.5 297v5.5M313.5 463v-5.5M406.5 297v5.5M406.5 463v-5.5M79.5 297v3M79.5 463v-3M172.5 297v3M172.5 463v-3M266.5 297v3M266.5 463v-3M360.5 297v3M360.5 463v-3M453.5 297v3M453.5 463v-3M33 463.5h5.5M500 463.5h-5.5M33 418.5h5.5M500 418.5h-5.5M33 374.5h5.5M500 374.5h-5.5M33 329.5h5.5M500 329.5h-5.5M33 441.5h3M500 441.5h-3M33 396.5h3M500 396.5h-3M33 352.5h3M500 352.5h-3M33 307.5h3M500 307.5h-3" stroke="#d9d9d9" stroke-width="1" fill="none"/>
<clipPath id="cs"><rect x="33" y="297" width="467" height="166"/></clipPath>
<g clip-path="url(#cs)">
<path d="M32.5 330.2H35.8V331.6H40.2V330.2H45.3V329H50.4V333.1H56.2V345.5H59.8V357.1H64.5V358H69.3V367.3H73.7V381.1H78.8V385.5H83.1V397.1H87.5V405.9H93.3V408H98.4V410.2H103.08V410.2H107.76V411.8H112.44V410.2H117.12V410.2H121.8V411.8H126.48V411.8H131.16V411H135.84V411H140.52V411.8H145.2V410.2H149.88V411.8H154.56V411H159.24V411H163.92V410.2H168.6V411H173.28V411H177.96V411H182.64V411.8H187.32V411H192V411.8H196.68V410.2H201.36V410.2H206.04V411.8H210.72V411H215.4V411.8H220.08V411H224.76V411.8H229.44V411H234.12V411H238.8V411H243.48V411H248.16V411H252.84V411.8H257.52V411H262.2V410.2H266.88V411H271.56V410.2H276.24V411.8H280.92V411H285.6V411.8H290.28V411H294.96V411H299.64V410.2H304.32V411H309V411H313.68V410.2H318.36V411H323.04V410.2H327.72V411.8H332.4V411H337.08V411H341.76V411H346.44V411H351.12V411.8H355.8V411H360.48V411H365.16V411H369.84V411.8H374.52V411H379.2V410.2H383.88V411H388.56V411H393.24V410.2H397.92V411H402.6V411H407.28V411H411.96V411H416.64V411H421.32V411H426V410.2H430.68V410.2H435.36V410.2H440.04V410.2H444.72V411H449.4V411.8H454.08V411H458.76V411H463.44V411H468.12V411H472.8V411H477.48V411H482.16V411H486.84V410.2H491.52V411H496.2V411H500.5" stroke="#f07a2c" stroke-width="1.8" fill="none"/>
<path d="M32.5 343.3H44.6V344.7H50.4V349.1H55.5V358.6H59.8V367.3H64.2V371.7H69.3V386.2H73.7V391.3H78.8V398.6H83.1V406.6H87.5V409.5H92.18V410.4H96.86V411.2H101.54V412H106.22V411.2H110.9V411.2H115.58V410.4H120.26V411.2H124.94V411.2H129.62V410.4H134.3V411.2H138.98V410.4H143.66V412H148.34V411.2H153.02V412H157.7V411.2H162.38V412H167.06V411.2H171.74V410.4H176.42V411.2H181.1V411.2H185.78V411.2H190.46V411.2H195.14V411.2H199.82V412H204.5V411.2H209.18V411.2H213.86V412H218.54V411.2H223.22V410.4H227.9V411.2H232.58V411.2H237.26V411.2H241.94V412H246.62V411.2H251.3V411.2H255.98V410.4H260.66V410.4H265.34V411.2H270.02V410.4H274.7V411.2H279.38V412H284.06V411.2H288.74V412H293.42V412H298.1V411.2H302.78V411.2H307.46V412H312.14V411.2H316.82V412H321.5V411.2H326.18V410.4H330.86V412H335.54V410.4H340.22V412H344.9V410.4H349.58V410.4H354.26V412H358.94V410.4H363.62V412H368.3V411.2H372.98V411.2H377.66V411.2H382.34V411.2H387.02V411.2H391.7V411.2H396.38V410.4H401.06V411.2H405.74V411.2H410.42V411.2H415.1V411.2H419.78V411.2H424.46V411.2H429.14V411.2H433.82V412H438.5V412H443.18V412H447.86V411.2H452.54V411.2H457.22V410.4H461.9V410.4H466.58V411.2H471.26V412H475.94V411.2H480.62V411.2H485.3V410.4H489.98V411.2H494.66V410.4H499.34V411.2H500.5" stroke="#2f8fe6" stroke-width="1.8" fill="none"/>
<path d="M32.5 357.8H35.1V354.9H38.7V353.5H44.6V367.3H49.7V392H54.7V403.7H58.4V400.8H64.2V406.6H69.3V411H73.7V409.5H78.8V411.7H83.48V412.6H88.16V412.6H92.84V412.6H97.52V412.6H102.2V412.6H106.88V412.6H111.56V412.6H116.24V412.6H120.92V412.6H125.6V413H130.28V412.6H134.96V412.6H139.64V412.6H144.32V412.2H149V412.6H153.68V413H158.36V412.6H163.04V412.6H167.72V412.6H172.4V412.6H177.08V412.6H181.76V412.2H186.44V412.2H191.12V412.6H195.8V412.6H200.48V412.6H205.16V412.6H209.84V412.2H214.52V413H219.2V413H223.88V412.2H228.56V412.6H233.24V412.2H237.92V412.6H242.6V412.6H247.28V412.6H251.96V413H256.64V412.6H261.32V412.2H266V413H270.68V413H275.36V412.6H280.04V412.2H284.72V412.2H289.4V413H294.08V412.6H298.76V412.6H303.44V412.6H308.12V412.6H312.8V413H317.48V412.6H322.16V412.6H326.84V412.6H331.52V412.2H336.2V412.6H340.88V413H345.56V412.6H350.24V412.2H354.92V412.6H359.6V413H364.28V412.2H368.96V413H373.64V412.6H378.32V413H383V412.6H387.68V412.6H392.36V412.6H397.04V412.6H401.72V412.6H406.4V412.2H411.08V412.2H415.76V412.2H420.44V412.6H425.12V412.2H429.8V412.6H434.48V412.6H439.16V412.6H443.84V412.2H448.52V412.2H453.2V412.6H457.88V412.6H462.56V412.2H467.24V412.6H471.92V412.6H476.6V412.6H481.28V412.6H485.96V413H490.64V412.6H495.32V413H500V412.6H500.5" stroke="#f6e060" stroke-width="1.8" fill="none"/>
<path d="M32.5 379H40.2V381.1H50.4V382.6H55.5V386.2H59.8V389.1H64.2V392.8H69.3V395.7H73.7V400H78.8V402.2H83.1V404.4H87.5V407.3H93.3V410.6H98.4V411.8H103.08V412H107.76V412.96H112.44V412.96H117.12V412H121.8V412H126.48V412H131.16V412H135.84V412H140.52V411.04H145.2V412H149.88V411.04H154.56V411.04H159.24V411.04H163.92V412H168.6V412H173.28V412H177.96V412H182.64V412H187.32V412H192V412H196.68V412.96H201.36V412H206.04V412H210.72V412.96H215.4V412H220.08V412H224.76V412H229.44V412H234.12V412H238.8V412.96H243.48V412H248.16V412H252.84V412H257.52V412H262.2V412H266.88V411.04H271.56V411.04H276.24V412.96H280.92V411.04H285.6V412.96H290.28V412H294.96V412H299.64V412.96H304.32V412.96H309V412H313.68V412H318.36V412H323.04V411.04H327.72V412.96H332.4V412H337.08V412H341.76V411.04H346.44V412.96H351.12V412H355.8V411.04H360.48V412H365.16V412.96H369.84V412H374.52V412H379.2V412H383.88V412H388.56V412H393.24V412H397.92V412H402.6V412H407.28V412H411.96V411.04H416.64V412H421.32V412.96H426V412.96H430.68V412H435.36V411.04H440.04V411.04H444.72V412H449.4V412.96H454.08V411.04H458.76V411.04H463.44V412H468.12V411.04H472.8V411.04H477.48V411.04H482.16V411.04H486.84V412.96H491.52V412H496.2V412H500.5" stroke="#3fcf3f" stroke-width="1.8" fill="none"/>
<path d="M32.5 414.5 500.5 414.5" stroke="#c15af8" stroke-width="1.8" fill="none" stroke-linejoin="round"/>
</g>
<rect x="32.5" y="296.5" width="468" height="167" fill="none" stroke="#d9d9d9" stroke-width="1"/>
<text x="27.5" y="467.1" text-anchor="end" class="tk">0</text>
<text x="27.5" y="422.1" text-anchor="end" class="tk">20</text>
<text x="27.5" y="378.1" text-anchor="end" class="tk">40</text>
<text x="27.5" y="333.1" text-anchor="end" class="tk">60</text>
<text x="265.8" y="291" text-anchor="middle" class="ti">spacing, ref_spacing</text>
<rect x="556" y="313" width="468" height="151" fill="#131313"/>
<path d="M649.5 314V463M743.5 314V463M836.5 314V463M930.5 314V463M557 448.5H1023M557 388.5H1023M557 328.5H1023" stroke="#454545" stroke-width="1" fill="none"/>
<path d="M649.5 314v5.5M649.5 463v-5.5M743.5 314v5.5M743.5 463v-5.5M836.5 314v5.5M836.5 463v-5.5M930.5 314v5.5M930.5 463v-5.5M603.5 314v3M603.5 463v-3M696.5 314v3M696.5 463v-3M790.5 314v3M790.5 463v-3M883.5 314v3M883.5 463v-3M976.5 314v3M976.5 463v-3M557 448.5h5.5M1023 448.5h-5.5M557 388.5h5.5M1023 388.5h-5.5M557 328.5h5.5M1023 328.5h-5.5M557 418.5h3M1023 418.5h-3M557 358.5h3M1023 358.5h-3" stroke="#d9d9d9" stroke-width="1" fill="none"/>
<clipPath id="ca"><rect x="557" y="314" width="466" height="149"/></clipPath>
<g clip-path="url(#ca)">
<path d="M556.5 388.2 557 385.46 557.5 384.33 558 383.23 558.5 382.16 559 381.13 559.5 380.17 560 379.27 560.5 378.44 561 377.7 561.5 377.06 562 376.51 562.5 376.07 563 375.73 563.5 375.51 564 375.41 564.5 375.42 565 375.55 565.5 375.79 566 376.15 566.5 376.61 567 377.18 567.5 377.84 568 378.6 568.5 379.44 569 380.35 569.5 381.33 570 382.37 570.5 383.44 571 384.56 571.5 385.69 572 386.83 572.5 387.97 573 389.09 573.5 390.19 574 391.25 574.5 392.27 575 393.22 575.5 394.11 576 394.91 576.5 395.63 577 396.26 577.5 396.79 578 397.21 578.5 397.52 579 397.72 579.5 397.8 580 397.76 580.5 397.61 581 397.35 581.5 396.97 582 396.48 582.5 395.9 583 395.21 583.5 394.44 584 393.58 584.5 392.66 585 391.66 585.5 390.62 586 389.54 586.5 388.42 587 387.29 587.5 386.14 588 385.01 588.5 383.89 589 382.79 589.5 381.74 590 380.74 590.5 379.8 591 378.93 591.5 378.14 592 377.43 592.5 376.83 593 376.32 593.5 375.92 594 375.63 594.5 375.46 595 375.4 595.5 375.46 596 375.63 596.5 375.92 597 376.32 597.5 376.83 598 377.43 598.5 378.14 599 378.93 599.5 379.8 600 380.74 600.5 381.74 601 382.79 601.5 383.89 602 385.01 602.5 386.14 603 387.29 603.5 388.42 604 389.54 604.5 390.62 605 391.66 605.5 392.66 606 393.58 606.5 394.44 607 395.21 607.5 395.9 608 396.48 608.5 396.97 609 397.35 609.5 397.61 610 397.76 610.5 397.8 611 397.72 611.5 397.52 612 397.21 612.5 396.79 613 396.26 613.5 395.63 614 394.91 614.5 394.11 615 393.22 615.5 392.27 616 394.85 616.7 392.26 617.4 392.26 618.1 388.75 618.8 388.22 619.5 387.09 620.2 387.38 620.9 385.6 621.6 386.91 622.3 383.9 623 380.56 623.7 378.47 624.4 379.35 625.1 379.14 625.8 377.17 626.5 375.39 627.2 374.17 627.9 374.46 628.6 377.47 629.3 377.56 630 378.4 630.7 381.59 631.4 380.98 632.1 379.91 632.8 379.71 633.5 383.01 634.2 386.05 634.9 386.73 635.6 385.95 636.3 389.29 637 392.71 637.7 393.1 638.4 393.14 639.1 395 639.8 395.43 640.5 396.95 641.2 396.92 641.9 400.69 642.6 400.03 643.3 400.26 644 399.74 644.7 397.8 645.4 399.81 646.1 396 646.8 396.75 647.5 394.39 648.2 392.19 648.9 391.48 649.6 391.46 650.3 389.47 651 386.93 651.7 384.34 652.4 382 653.1 381.09 653.8 382.27 654.5 377.57 655.2 376.85 655.9 379.09 656.6 377.71 657.3 376.32 658 376.72 658.7 374.85 659.4 375.93 660.1 375.46 660.8 376.61 661.5 377.59 662.2 380.47 662.9 381.29 663.6 381.57 664.3 382.95 665 385.49 665.7 386.76 666.4 389.88 667.1 391.18 667.8 392.11 668.5 393.19 669.2 394.09 669.9 395.97 670.6 396.01 671.3 396.48 672 398.24 672.7 398.99 673.4 399.52 674.1 398.85 674.8 401.14 675.5 398.65 676.2 397.42 676.9 393.28 677.6 392.65 678.3 393.13 679 391.52 679.7 390.13 680.4 387.74 681.1 385.69 681.8 384.82 682.5 384.53 683.2 380.79 683.9 381.43 684.6 380.99 685.3 376.07 686 375.52 686.7 374 687.4 377.48 688.1 378.28 688.8 375.84 689.5 373.45 690.2 374.77 690.9 376.8 691.6 377.58 692.3 377.98 693 378.51 693.7 377.7 694.4 380.67 695.1 381.15 695.8 383.68 696.5 385.36 697.2 386.26 697.9 387.8 698.6 391.8 699.3 393.47 700 395.82 700.7 397.79 701.4 399.84 702.1 398.74 702.8 400.92 703.5 399.83 704.2 398.75 704.9 397.89 705.6 398.2 706.3 399.13 707 397.92 707.7 396.37 708.4 393.67 709.1 395.5 709.8 392.87 710.5 390.82 711.2 389.46 711.9 391.21 712.6 391.64 713.3 387.2 714 384.16 714.7 382.09 715.4 379.8 716.1 379.76 716.8 379.36 717.5 378.93 718.2 377.62 718.9 376.39 719.6 375.91 720.3 377.53 721 376.63 721.7 376.3 722.4 378.34 723.1 377.21 723.8 380.52 724.5 381.62 725.2 380.19 725.9 382.87 726.6 384.09 727.3 386.97 728 388.85 728.7 390.44 729.4 389.7 730.1 393.22 730.8 394.4 731.5 395.41 732.2 398.22 732.9 398.01 733.6 398.64 734.3 397.9 735 399.06 735.7 399.73 736.4 398.97 737.1 398.23 737.8 399.1 738.5 399.61 739.2 396.87 739.9 394.45 740.6 390.76 741.3 390.11 742 391.9 742.7 390.75 743.4 390.64 744.1 387.52 744.8 385.82 745.5 385.07 746.2 382.79 746.9 383.93 747.6 379.81 748.3 375.29 749 374.71 749.7 375.27 750.4 377.18 751.1 376.5 751.8 376.07 752.5 372.81 753.2 375.48 753.9 378.34 754.6 378.75 755.3 380.58 756 380.31 756.7 382.72 757.4 385.33 758.1 388.59 758.8 391.25 759.5 391.77 760.2 391.71 760.9 394.22 761.6 395.19 762.3 399.34 763 395.07 763.7 395.3 764.4 397.36 765.1 399.1 765.8 400.06 766.5 399.57 767.2 398.28 767.9 398.02 768.6 397.88 769.3 397.78 770 395.92 770.7 395.03 771.4 392.49 772.1 393.48 772.8 392.35 773.5 390.95 774.2 386.72 774.9 383.98 775.6 385.63 776.3 381.51 777 380.05 777.7 378.85 778.4 377.58 779.1 378.85 779.8 375.85 780.5 374.58 781.2 374.39 781.9 373.48 782.6 374.34 783.3 375.39 784 375.22 784.7 377.47 785.4 377.39 786.1 378.56 786.8 382.36 787.5 381.88 788.2 383.94 788.9 387.29 789.6 387.85 790.3 387.95 791 390.54 791.7 392.68 792.4 393.6 793.1 395.15 793.8 397.08 794.5 398.41 795.2 400.92 795.9 400.5 796.6 400.2 797.3 401.18 798 399.53 798.7 397.13 799.4 398.18 800.1 395.83 800.8 395.41 801.5 394.6 802.2 393.22 802.9 392.05 803.6 390.47 804.3 390.14 805 387.45 805.7 386.63 806.4 385.1 807.1 382.24 807.8 378.52 808.5 378.45 809.2 377.21 809.9 377.67 810.6 376.76 811.3 375.63 812 374.69 812.7 374.83 813.4 379 814.1 376.09 814.8 372.17 815.5 376.07 816.2 377.85 816.9 377.47 817.6 381.71 818.3 380.39 819 383.56 819.7 384.92 820.4 387.59 821.1 390.29 821.8 392.79 822.5 392.45 823.2 393.44 823.9 395.94 824.6 396.4 825.3 398.62 826 397.71 826.7 399.8 827.4 400.28 828.1 398.49 828.8 400.72 829.5 397.96 830.2 396.23 830.9 396.69 831.6 395.53 832.3 393.92 833 394.14 833.7 390.88 834.4 390.42 835.1 389.45 835.8 387.21 836.5 386.22 837.2 384.87 837.9 382.05 838.6 382.29 839.3 379.75 840 379.19 840.7 377.44 841.4 375.74 842.1 373.27 842.8 375.17 843.5 374.65 844.2 377.15 844.9 380.92 845.6 375.6 846.3 375.46 847 376.03 847.7 377.71 848.4 379.44 849.1 381.15 849.8 384.23 850.5 385.27 851.2 385.53 851.9 389.46 852.6 390.81 853.3 391.55 854 391.4 854.7 395.15 855.4 399.01 856.1 398.17 856.8 398.9 857.5 398.6 858.2 401.15 858.9 398.69 859.6 396.64 860.3 398.14 861 399.69 861.7 402.25 862.4 394.5 863.1 394.34 863.8 396.57 864.5 393.53 865.2 393.75 865.9 390.37 866.6 387.96 867.3 387.53 868 384.09 868.7 385 869.4 381.26 870.1 378.48 870.8 377.78 871.5 375.89 872.2 374.23 872.9 372.87 873.6 373.15 874.3 374.07 875 375.22 875.7 376.93 876.4 375.52 877.1 376.74 877.8 378.35 878.5 378.72 879.2 380.95 879.9 382 880.6 384.24 881.3 384.42 882 386.13 882.7 388.35 883.4 392.18 884.1 391.71 884.8 391.71 885.5 394.21 886.2 394.76 886.9 393.09 887.6 395.88 888.3 397.44 889 399.94 889.7 399.66 890.4 399.49 891.1 401.1 891.8 399.19 892.5 400.01 893.2 397.88 893.9 399.14 894.6 395.9 895.3 394.29 896 393.29 896.7 391.55 897.4 387.9 898.1 385.67 898.8 386.49 899.5 383.52 900.2 380.88 900.9 379.32 901.6 377.62 902.3 378.89 903 378.18 903.7 376.11 904.4 375.84 905.1 374.28 905.8 373.45 906.5 372.97 907.2 377.76 907.9 378.28 908.6 376.89 909.3 379.6 910 380.88 910.7 381.82 911.4 382.8 912.1 384.48 912.8 387.21 913.5 387.65 914.2 388.91 914.9 388.93 915.6 391.9 916.3 393.92 917 395.66 917.7 398.39 918.4 396.95 919.1 399.28 919.8 398.82 920.5 400.11 921.2 400.25 921.9 400.67 922.6 399.19 923.3 399.49 924 397.52 924.7 397.84 925.4 393.5 926.1 393.05 926.8 391.65 927.5 390.82 928.2 386.05 928.9 384.7 929.6 380.98 930.3 380.79 931 382.01 931.7 379.13 932.4 375.84 933.1 378.04 933.8 376.1 934.5 376.06 935.2 378.88 935.9 378.33 936.6 376.44 937.3 374.49 938 376.75 938.7 377.84 939.4 379.66 940.1 378.82 940.8 378.96 941.5 381.13 942.2 378.76 942.9 385.56 943.6 385.4 944.3 387.27 945 388.91 945.7 388.74 946.4 391.68 947.1 393.76 947.8 395.5 948.5 396.36 949.2 398.66 949.9 399.33 950.6 397.58 951.3 398.55 952 398.48 952.7 397.02 953.4 395.88 954.1 397.18 954.8 395.34 955.5 393.62 956.2 393.86 956.9 393.61 957.6 390.13 958.3 387.23 959 386.23 959.7 385.8 960.4 384.52 961.1 383.4 961.8 382.15 962.5 382.95 963.2 382.19 963.9 378.37 964.6 377.74 965.3 377.19 966 375.64 966.7 376.33 967.4 376.55 968.1 378.02 968.8 377.65 969.5 376.7 970.2 376.46 970.9 377.55 971.6 379.48 972.3 381.25 973 383.05 973.7 383.97 974.4 383.86 975.1 386.58 975.8 388.7 976.5 390.45 977.2 393.87 977.9 395.25 978.6 395.39 979.3 397.24 980 398.98 980.7 399.33 981.4 400.53 982.1 400.6 982.8 400.93 983.5 401.67 984.2 397.93 984.9 398.07 985.6 398.04 986.3 394.92 987 394.09 987.7 393.51 988.4 392.25 989.1 388.22 989.8 384.51 990.5 385.59 991.2 382.67 991.9 381.44 992.6 379.74 993.3 380.64 994 383.3 994.7 379.97 995.4 378.39 996.1 374.65 996.8 375.69 997.5 375.43 998.2 376.94 998.9 375.83 999.6 374.56 1000.3 376.38 1001 377.01 1001.7 378.42 1002.4 379.13 1003.1 378 1003.8 379.73 1004.5 382.32 1005.2 384.52 1005.9 388.58 1006.6 389.98 1007.3 390.91 1008 391.23 1008.7 394.72 1009.4 394.94 1010.1 396.85 1010.8 398.49 1011.5 398.89 1012.2 398.92 1012.9 399.57 1013.6 398.61 1014.3 400.51 1015 400.19 1015.7 398.19 1016.4 399.08 1017.1 395.6 1017.8 395.68 1018.5 395.22 1019.2 392.62 1019.9 389.12 1020.6 387.74 1021.3 386.83 1022 385.2 1022.7 383.03 1023.4 381.24" stroke="#f6e060" stroke-width="1.6" fill="none" stroke-linejoin="round"/>
<path d="M556.5 388.2 558.5 388.2 560.8 328.3 563.7 328.3 566.6 437 570.5 395 572.2 328.3 577.3 328.3 580.5 448.1 584.5 448.1 588.5 328.3 590.4 328.3 593 448.1 596 448.1 600 372 603 392 606 370 609.5 410 613 388 616 382 617 392.98 617.7 392.33 618.4 389.83 619.1 387.24 619.8 386.42 620.5 383.44 621.2 383.4 621.9 380.99 622.6 379.63 623.3 378.48 624 376.1 624.7 375.61 625.4 376.8 626.1 374.15 626.8 374.19 627.5 375.6 628.2 375.62 628.9 375.26 629.6 377.42 630.3 378.43 631 378.38 631.7 379.26 632.4 382.31 633.1 386.07 633.8 385.48 634.5 386.4 635.2 389.66 635.9 391.36 636.6 391.68 637.3 395.31 638 395.88 638.7 394.29 639.4 397.23 640.1 400.87 640.8 400.06 641.5 400.21 642.2 399.3 642.9 400 643.6 399.18 644.3 398.1 645 399.69 645.7 395.28 646.4 394.96 647.1 394.15 647.8 394.34 648.5 392.66 649.2 391.36 649.9 389.02 650.6 385.02 651.3 384.29 652 382.83 652.7 381.39 653.4 379.8 654.1 378.22 654.8 376.36 655.5 377.62 656.2 375.51 656.9 374.73 657.6 375.89 658.3 374.1 659 373.9 659.7 374.19 660.4 377.04 661.1 376.69 661.8 380.68 662.5 380.63 663.2 379.65 663.9 384.15 664.6 385.73 665.3 385.95 666 391.16 666.7 389.06 667.4 392.42 668.1 392.6 668.8 393.5 669.5 396.31 670.2 397.85 670.9 400.05 671.6 400.71 672.3 398.09 673 400.79 673.7 398.36 674.4 399.76 675.1 397.51 675.8 397.99 676.5 397.66 677.2 396.2 677.9 394.33 678.6 393.22 679.3 393.55 680 390.83 680.7 388.1 681.4 386.03 682.1 384.04 682.8 384.36 683.5 382.17 684.2 380.26 684.9 380.07 685.6 377.24 686.3 377.87 687 374.66 687.7 377.01 688.4 374.75 689.1 374.12 689.8 374.28 690.5 377 691.2 375.3 691.9 376.7 692.6 378.72 693.3 379.38 694 383.13 694.7 385.54 695.4 384.91 696.1 384.99 696.8 385.47 697.5 389.14 698.2 392.29 698.9 394.91 699.6 396.26 700.3 394.68 701 393.05 701.7 396.24 702.4 399.01 703.1 399.94 703.8 398.97 704.5 399.55 705.2 401.58 705.9 399.13 706.6 397.62 707.3 396.33 708 393.6 708.7 396.76 709.4 393.85 710.1 392.53 710.8 391.5 711.5 390.62 712.2 388.31 712.9 386.64 713.6 383.97 714.3 382.27 715 382.23 715.7 380.6 716.4 377.1 717.1 375.48 717.8 377.25 718.5 375.76 719.2 377.58 719.9 377.38 720.6 376.74 721.3 377.38 722 376.4 722.7 377.16 723.4 377.12 724.1 377.58 724.8 382.22 725.5 384.48 726.2 386.44 726.9 384.31 727.6 388.76 728.3 390.14 729 392.07 729.7 394.66 730.4 395.78 731.1 397.69 731.8 395.22 732.5 399.11 733.2 401.42 733.9 401.28 734.6 402.16 735.3 401.64 736 401.65 736.7 401.43 737.4 401.46 738.1 397.51 738.8 395.34 739.5 393.35 740.2 395.88 740.9 391.4 741.6 389.31 742.3 388.48 743 386.38 743.7 385.71 744.4 383.71 745.1 382.05 745.8 381.62 746.5 378.12 747.2 376.82 747.9 377.28 748.6 376.86 749.3 377.34 750 375.7 750.7 375.67 751.4 377.34 752.1 376.8 752.8 378.87 753.5 378.72 754.2 380.98 754.9 380.71 755.6 379.63 756.3 384.47 757 386.28 757.7 387.32 758.4 388.96 759.1 389.83 759.8 391.58 760.5 391.64 761.2 392.42 761.9 394.58 762.6 397.94 763.3 398.4 764 398.27 764.7 401.29 765.4 402.39 766.1 401.83 766.8 402.23 767.5 400.58 768.2 398.97 768.9 397.83 769.6 398.5 770.3 397.09 771 394.66 771.7 392.08 772.4 391.64 773.1 388.59 773.8 384.33 774.5 384.25 775.2 381.31 775.9 381.03 776.6 380.21 777.3 379.47 778 377.88 778.7 378.34 779.4 375.4 780.1 374.26 780.8 375.04 781.5 374.35 782.2 373.62 782.9 374.63 783.6 373.94 784.3 376.69 785 375.61 785.7 375.47 786.4 379.52 787.1 380.67 787.8 382.45 788.5 384.74 789.2 383.24 789.9 386.6 790.6 387.8 791.3 391.99 792 392.83 792.7 395.68 793.4 395.52 794.1 397.78 794.8 397.49 795.5 401.64 796.2 400.58 796.9 399.7 797.6 400.02 798.3 397.27 799 398.03 799.7 397.72 800.4 397.41 801.1 395.62 801.8 394.94 802.5 393 803.2 388.24 803.9 388.38 804.6 389.02 805.3 385.1 806 385.08 806.7 383.35 807.4 381.77 808.1 378.02 808.8 377.04 809.5 377.82 810.2 375.91 810.9 375.48 811.6 375.89 812.3 376.53 813 376.01 813.7 377.49 814.4 377.24 815.1 376.78 815.8 377.44 816.5 379.09 817.2 381.56 817.9 383.04 818.6 384.12 819.3 385.59 820 386.7 820.7 387.46 821.4 389.93 822.1 393.5 822.8 394.47 823.5 396.5 824.2 397.66 824.9 400.56 825.6 399.94 826.3 400.65 827 400.63 827.7 401.56 828.4 400.88 829.1 399.15 829.8 398.15 830.5 397.18 831.2 398.66 831.9 397.83 832.6 394.25 833.3 392.38 834 392.86 834.7 389.5 835.4 385.7 836.1 387.1 836.8 383.63 837.5 383.15 838.2 380.66 838.9 379.98 839.6 375.96 840.3 375.39 841 377.15 841.7 376.5 842.4 374.51 843.1 376.14 843.8 375.96 844.5 378.63 845.2 374.62 845.9 374.33 846.6 374.35 847.3 378.03 848 380.82 848.7 384.96 849.4 382.34 850.1 382.29 850.8 383.71 851.5 387.76 852.2 390.37 852.9 389.29 853.6 391.69 854.3 394.26 855 394.49 855.7 397.68 856.4 397.08 857.1 396.65 857.8 396.48 858.5 398.93 859.2 399.27 859.9 400.19 860.6 400.03 861.3 398.95 862 396.65 862.7 395.94 863.4 397.29 864.1 393.86 864.8 393.55 865.5 390.99 866.2 388.19 866.9 386.12 867.6 386.01 868.3 379.08 869 379.62 869.7 378.39 870.4 377.59 871.1 377.34 871.8 373.96 872.5 375.26 873.2 374.84 873.9 375.48 874.6 375.43 875.3 374.92 876 375.26 876.7 377.95 877.4 379.04 878.1 381.16 878.8 381.69 879.5 382 880.2 383.51 880.9 385.4 881.6 386.48 882.3 388.9 883 390.49 883.7 392.29 884.4 394.07 885.1 396.44 885.8 398.36 886.5 398.61 887.2 396.48 887.9 396.77 888.6 399.29 889.3 401.31 890 400.89 890.7 399.24 891.4 398.85 892.1 399.91 892.8 399.13 893.5 394.5 894.2 394.98 894.9 394.42 895.6 392.32 896.3 391.84 897 388.7 897.7 386.01 898.4 385.54 899.1 382.79 899.8 380.38 900.5 377.52 901.2 378.13 901.9 377.12 902.6 380.09 903.3 376.53 904 375.4 904.7 373.22 905.4 375 906.1 376.15 906.8 375.84 907.5 375.64 908.2 376.16 908.9 378.56 909.6 379.73 910.3 381.1 911 381.63 911.7 383.11 912.4 385.82 913.1 388.72 913.8 390.27 914.5 390.2 915.2 391.55 915.9 394.09 916.6 394.4 917.3 396.27 918 398.65 918.7 400.4 919.4 400.51 920.1 398.43 920.8 398.68 921.5 399.63 922.2 397.77 922.9 398.69 923.6 397.38 924.3 392.76 925 391.02 925.7 390.94 926.4 390.59 927.1 390.3 927.8 388.21 928.5 385.64 929.2 382.97 929.9 383.43 930.6 383.24 931.3 382.6 932 379.49 932.7 375.15 933.4 377.95 934.1 375.45 934.8 374.12 935.5 374.81 936.2 374.39 936.9 373.54 937.6 372.48 938.3 375.94 939 376.95 939.7 377.44 940.4 380.18 941.1 378.76 941.8 381.69 942.5 385.54 943.2 385.78 943.9 386.23 944.6 388.81 945.3 392.7 946 392.41 946.7 393.59 947.4 395.8 948.1 395.61 948.8 397.42 949.5 398.9 950.2 399.73 950.9 398.57 951.6 398.64 952.3 397.76 953 399.2 953.7 396.66 954.4 397.22 955.1 397.75 955.8 395.75 956.5 392.63 957.2 391.28 957.9 388.94 958.6 389.22 959.3 387.84 960 385.96 960.7 384.21 961.4 380.51 962.1 377.77 962.8 379.04 963.5 376.21 964.2 377.56 964.9 375.27 965.6 374.14 966.3 374.02 967 372.35 967.7 373.71 968.4 374.73 969.1 376.16 969.8 374.27 970.5 376.63 971.2 376.16 971.9 379.11 972.6 381.74 973.3 385.31 974 387.6 974.7 386.98 975.4 388.54 976.1 390.52 976.8 393.3 977.5 391.65 978.2 393.32 978.9 394.8 979.6 395.68 980.3 398.21 981 396.95 981.7 398.25 982.4 397.99 983.1 400.65 983.8 400.26 984.5 397.84 985.2 394.7 985.9 394.33 986.6 394.42 987.3 393.36 988 391.89 988.7 389.81 989.4 389.02 990.1 387.2 990.8 385.11 991.5 385.23 992.2 383.01 992.9 378.14 993.6 376.2 994.3 375.22 995 376.14 995.7 376.29 996.4 372.66 997.1 375.04 997.8 374.68 998.5 373.99 999.2 375.94 999.9 378.11 1000.6 377.83 1001.3 378.23 1002 379.58 1002.7 383.22 1003.4 384.58 1004.1 389.87 1004.8 389.25 1005.5 389.02 1006.2 390.15 1006.9 390.56 1007.6 392.53 1008.3 392.69 1009 396.17 1009.7 396.58 1010.4 399.05 1011.1 397.62 1011.8 398.24 1012.5 398.52 1013.2 397.16 1013.9 401.41 1014.6 398.96 1015.3 400.06 1016 396.31 1016.7 394.99 1017.4 394.39 1018.1 393.99 1018.8 394.08 1019.5 394.98 1020.2 389.23 1020.9 386.01 1021.6 384.68 1022.3 381.11 1023 381.83" stroke="#2f8fe6" stroke-width="1.6" fill="none" stroke-linejoin="round"/>
<path d="M556.5 388.2 558.5 388.2 560.8 328.3 565.7 328.3 569.8 448.1 571.5 448.1 574 328.3 579.2 328.3 582.5 448.1 587 448.1 590.9 350 594.8 328.3 595.7 328.3 598.5 448.1 601 448.1 603.5 328.3 605 360 609.5 424.5 613.5 385 616 384 617 394.3 617.7 394.29 618.4 391.19 619.1 390.2 619.8 386.59 620.5 384.57 621.2 383.75 621.9 383 622.6 378.98 623.3 380.34 624 376.94 624.7 377.19 625.4 375.07 626.1 373.85 626.8 374.25 627.5 375.07 628.2 375.78 628.9 373.66 629.6 375.48 630.3 375.92 631 377.68 631.7 379.29 632.4 381.16 633.1 383.16 633.8 382.41 634.5 385.29 635.2 384.77 635.9 387.54 636.6 390.73 637.3 391.51 638 393.04 638.7 396.38 639.4 395.99 640.1 397.3 640.8 398.44 641.5 400.96 642.2 400.63 642.9 399.81 643.6 400.61 644.3 398.78 645 396.77 645.7 397.01 646.4 397.41 647.1 396.77 647.8 393.82 648.5 390.08 649.2 387.34 649.9 387.88 650.6 387.64 651.3 385.21 652 381.5 652.7 381.17 653.4 377.4 654.1 378.94 654.8 373.78 655.5 380.7 656.2 376.72 656.9 374.41 657.6 372.85 658.3 375.38 659 373.31 659.7 374.04 660.4 374.68 661.1 378.14 661.8 378.6 662.5 378.52 663.2 381.52 663.9 380.56 664.6 384.3 665.3 385.02 666 386.99 666.7 388.97 667.4 391.56 668.1 393.1 668.8 396.49 669.5 396.93 670.2 397.18 670.9 397.66 671.6 397.95 672.3 397.5 673 400.66 673.7 402.11 674.4 400.51 675.1 399.53 675.8 400.73 676.5 400.19 677.2 397.39 677.9 397.61 678.6 396.29 679.3 392.19 680 392.4 680.7 387.93 681.4 387.53 682.1 385.5 682.8 383.74 683.5 382.72 684.2 380.18 684.9 378.37 685.6 376.01 686.3 376.72 687 376.15 687.7 375.99 688.4 372.86 689.1 374.13 689.8 375.29 690.5 375.16 691.2 378.03 691.9 378.14 692.6 374.98 693.3 379.03 694 380.71 694.7 382 695.4 385 696.1 386.48 696.8 389.57 697.5 390.56 698.2 390.72 698.9 392.21 699.6 392.8 700.3 393.13 701 395.89 701.7 396.15 702.4 397.18 703.1 400.98 703.8 399.78 704.5 399.03 705.2 396.51 705.9 399.58 706.6 399 707.3 395.75 708 395.73 708.7 392.89 709.4 393.96 710.1 391.11 710.8 391.72 711.5 389.11 712.2 386.49 712.9 383.1 713.6 382.58 714.3 382.93 715 380.61 715.7 378.6 716.4 379.1 717.1 377.33 717.8 376.78 718.5 374.7 719.2 373.53 719.9 372.31 720.6 374.05 721.3 373.96 722 372.82 722.7 376.66 723.4 377.26 724.1 378.56 724.8 381.24 725.5 383.2 726.2 385.13 726.9 386.23 727.6 386.73 728.3 388.68 729 391.57 729.7 391.1 730.4 393.63 731.1 394.49 731.8 395.28 732.5 397.36 733.2 397.53 733.9 397.48 734.6 398.28 735.3 399.41 736 398.94 736.7 401.34 737.4 398.75 738.1 397.06 738.8 393.99 739.5 394.26 740.2 391.58 740.9 390.75 741.6 390.46 742.3 388.67 743 387.22 743.7 385.84 744.4 384.13 745.1 382.24 745.8 381.35 746.5 377.75 747.2 376.34 747.9 374.91 748.6 378.29 749.3 378.19 750 374.98 750.7 373.7 751.4 375.91 752.1 378.63 752.8 378.27 753.5 378.08 754.2 379.14 754.9 380.36 755.6 380.95 756.3 382.8 757 384.58 757.7 386.03 758.4 387.59 759.1 386.23 759.8 390.04 760.5 391.1 761.2 392.34 761.9 394.43 762.6 395.54 763.3 400.14 764 398.74 764.7 399.3 765.4 400.66 766.1 399.7 766.8 398.1 767.5 399.22 768.2 397.26 768.9 394.85 769.6 396.24 770.3 395.85 771 394.24 771.7 393.36 772.4 391.25 773.1 389.39 773.8 387.14 774.5 385.23 775.2 382.1 775.9 380.25 776.6 378.39 777.3 380.37 778 378.87 778.7 377.9 779.4 374.42 780.1 373.61 780.8 374.88 781.5 374.19 782.2 372.21 782.9 375.48 783.6 377.23 784.3 376.51 785 378.55 785.7 377.7 786.4 380.91 787.1 381.61 787.8 381.93 788.5 385.04 789.2 386.6 789.9 389.98 790.6 391.38 791.3 391.45 792 392.85 792.7 394.61 793.4 397.45 794.1 395.73 794.8 397.17 795.5 398.87 796.2 398.62 796.9 400.33 797.6 400.08 798.3 400.1 799 399.79 799.7 398.71 800.4 397.76 801.1 395.84 801.8 394.3 802.5 393.28 803.2 391.74 803.9 388.53 804.6 389.49 805.3 385.6 806 382.24 806.7 379.66 807.4 381.22 808.1 377.66 808.8 377.95 809.5 378.04 810.2 376.5 810.9 375.44 811.6 376.37 812.3 375.26 813 375.24 813.7 374.59 814.4 375.78 815.1 377.92 815.8 378.95 816.5 379.11 817.2 380.48 817.9 383.21 818.6 382.49 819.3 382.99 820 385.4 820.7 387.17 821.4 389.84 822.1 391.23 822.8 394.54 823.5 395.94 824.2 400.08 824.9 398.39 825.6 399.32 826.3 400.03 827 398.55 827.7 402.11 828.4 400.9 829.1 399.16 829.8 399.65 830.5 399.07 831.2 398.14 831.9 394.24 832.6 392.81 833.3 390.98 834 388.91 834.7 387.71 835.4 387.08 836.1 387.08 836.8 388.67 837.5 384.57 838.2 381.25 838.9 379.5 839.6 376.85 840.3 375.81 841 375.92 841.7 374.58 842.4 374.09 843.1 374.79 843.8 375.41 844.5 375.42 845.2 376.13 845.9 376.12 846.6 376.83 847.3 376.52 848 378.75 848.7 379.19 849.4 383.18 850.1 383.86 850.8 385.39 851.5 387.91 852.2 391.66 852.9 393.34 853.6 391.19 854.3 392.54 855 393.82 855.7 394.67 856.4 395.95 857.1 396.01 857.8 400.72 858.5 401.28 859.2 400.48 859.9 401.96 860.6 400.57 861.3 396.04 862 396.26 862.7 396.51 863.4 396.39 864.1 393.98 864.8 390.41 865.5 390.69 866.2 388.06 866.9 387.19 867.6 387.01 868.3 385.77 869 383.21 869.7 380.39 870.4 378.98 871.1 379.42 871.8 378.36 872.5 375.88 873.2 376.27 873.9 374.99 874.6 374.87 875.3 374.07 876 373.9 876.7 374.74 877.4 375.38 878.1 378.46 878.8 379.71 879.5 380.64 880.2 383.47 880.9 385.02 881.6 386.99 882.3 388.12 883 391.49 883.7 390.68 884.4 391.79 885.1 393.13 885.8 395.87 886.5 396.77 887.2 399.39 887.9 398.51 888.6 399.69 889.3 400.54 890 400.54 890.7 398.5 891.4 399.23 892.1 397.89 892.8 397.54 893.5 396.4 894.2 396.92 894.9 391.64 895.6 390.48 896.3 388.68 897 387.28 897.7 386.16 898.4 382.98 899.1 382.01 899.8 382.81 900.5 379.31 901.2 379.76 901.9 378.35 902.6 376.7 903.3 376.88 904 374.96 904.7 373.72 905.4 372.64 906.1 375.43 906.8 377.44 907.5 377.36 908.2 378.43 908.9 379.94 909.6 378.69 910.3 382.69 911 381.37 911.7 384.39 912.4 387.37 913.1 387.92 913.8 390.43 914.5 392.67 915.2 392.87 915.9 391.15 916.6 395.2 917.3 396.35 918 399.39 918.7 398.96 919.4 401.69 920.1 401.34 920.8 399.27 921.5 399.55 922.2 401.27 922.9 400.26 923.6 397.26 924.3 396.96 925 396.93 925.7 393.32 926.4 391.49 927.1 389.69 927.8 388.03 928.5 387.05 929.2 385.74 929.9 381.39 930.6 380.55 931.3 379.82 932 378.46 932.7 375.91 933.4 376.09 934.1 376.39 934.8 373.79 935.5 371.66 936.2 373.03 936.9 374.3 937.6 374.13 938.3 375.15 939 375.96 939.7 377.46 940.4 382.15 941.1 381.36 941.8 383.45 942.5 384.7 943.2 385.92 943.9 385.76 944.6 387.49 945.3 391.09 946 392.5 946.7 395.27 947.4 397.68 948.1 398.84 948.8 399.4 949.5 397.16 950.2 399 950.9 399.64 951.6 399.15 952.3 402.33 953 401.4 953.7 400.99 954.4 398.87 955.1 397.37 955.8 397.2 956.5 395.02 957.2 391.07 957.9 390.58 958.6 391.34 959.3 388.23 960 385.68 960.7 383.23 961.4 382.69 962.1 381.02 962.8 379.85 963.5 377.26 964.2 378.59 964.9 377.39 965.6 375.9 966.3 376.05 967 373.21 967.7 373.32 968.4 374.02 969.1 376.09 969.8 376.32 970.5 378.15 971.2 379.31 971.9 381.37 972.6 384.27 973.3 384.48 974 385.92 974.7 388.33 975.4 390.5 976.1 392.65 976.8 393.53 977.5 394.81 978.2 394.52 978.9 394.78 979.6 392.65 980.3 396.23 981 399.25 981.7 402.05 982.4 401.34 983.1 397.47 983.8 398.6 984.5 397.32 985.2 397.37 985.9 396.83 986.6 393.89 987.3 395.29 988 393.06 988.7 390.72 989.4 388.54 990.1 389.47 990.8 386.31 991.5 383.89 992.2 382.88 992.9 378.57 993.6 377.56 994.3 378.25 995 378.37 995.7 377.89 996.4 375.17 997.1 375.32 997.8 374.87 998.5 371.62 999.2 373.08 999.9 374.03 1000.6 376.29 1001.3 378.6 1002 380.35 1002.7 381.46 1003.4 382.36 1004.1 385.52 1004.8 384.86 1005.5 389.59 1006.2 389.86 1006.9 391.67 1007.6 394.77 1008.3 395.14 1009 397.4 1009.7 398.59 1010.4 397.88 1011.1 396.96 1011.8 396.29 1012.5 397.88 1013.2 398.99 1013.9 398.86 1014.6 399.41 1015.3 399.19 1016 397.45 1016.7 395.49 1017.4 393.62 1018.1 393.09 1018.8 391.11 1019.5 390.53 1020.2 389.88 1020.9 387.24 1021.6 385.05 1022.3 384.07 1023 382.13" stroke="#f07a2c" stroke-width="1.6" fill="none" stroke-linejoin="round"/>
<path d="M556.5 388.2 558.5 388.2 560.8 328.3 567.1 328.3 570 448.1 572 448.1 574.5 328.3 578.5 328.3 581.5 448.1 588 448.1 591.5 328.3 596 328.3 599 448.1 601 448.1 603.5 328.3 604.5 328.3 609.2 432.4 613.8 383.7 616 386 617 392.44 617.7 391.18 618.4 388.33 619.1 384.83 619.8 382.78 620.5 381.39 621.2 382.33 621.9 380.51 622.6 378.19 623.3 375.77 624 375.42 624.7 374.11 625.4 374.9 626.1 375.35 626.8 376.12 627.5 375.99 628.2 376.78 628.9 377.44 629.6 378.62 630.3 378.87 631 382.91 631.7 380.69 632.4 380.83 633.1 382.41 633.8 386.56 634.5 389.3 635.2 388.28 635.9 389.73 636.6 391.47 637.3 394.59 638 397.02 638.7 396.49 639.4 396.12 640.1 395.98 640.8 397.06 641.5 399.8 642.2 399.89 642.9 399.28 643.6 397.39 644.3 396.88 645 398.2 645.7 398.23 646.4 396.43 647.1 395.58 647.8 393.26 648.5 389.86 649.2 393.34 649.9 387.74 650.6 386.3 651.3 384.29 652 382.57 652.7 384.92 653.4 381.43 654.1 380.06 654.8 378.92 655.5 374.55 656.2 376.42 656.9 375.41 657.6 377.14 658.3 378.35 659 377.38 659.7 377.82 660.4 377.74 661.1 378.53 661.8 379.73 662.5 381.42 663.2 381.28 663.9 385.28 664.6 387.54 665.3 389.68 666 389.42 666.7 388.36 667.4 392.03 668.1 392.66 668.8 396.16 669.5 397.82 670.2 397.19 670.9 396.88 671.6 398.76 672.3 400.01 673 399.78 673.7 396.65 674.4 397.39 675.1 398.06 675.8 396.14 676.5 396.41 677.2 395.66 677.9 395.13 678.6 394.35 679.3 391.9 680 389.07 680.7 385.78 681.4 384.22 682.1 383.67 682.8 383.75 683.5 381.08 684.2 380.82 684.9 378.65 685.6 376.44 686.3 375.48 687 376.23 687.7 376.43 688.4 374.25 689.1 374.11 689.8 376.97 690.5 377.85 691.2 380.14 691.9 379.65 692.6 378.87 693.3 380.23 694 382.07 694.7 384.96 695.4 384.13 696.1 386.77 696.8 388.58 697.5 390.16 698.2 394.45 698.9 398.66 699.6 398.02 700.3 396.09 701 396.34 701.7 394.8 702.4 399.01 703.1 399 703.8 398 704.5 398.64 705.2 398.33 705.9 396.38 706.6 398.3 707.3 397.1 708 397.24 708.7 397.38 709.4 394.55 710.1 392.36 710.8 392.07 711.5 388.18 712.2 387.03 712.9 383.87 713.6 382.28 714.3 380.8 715 379.14 715.7 378.82 716.4 376.72 717.1 378.91 717.8 376.92 718.5 373.65 719.2 376.55 719.9 376.13 720.6 375.34 721.3 375.22 722 376.37 722.7 377.61 723.4 378.77 724.1 380.64 724.8 381.46 725.5 382.82 726.2 383.72 726.9 389.39 727.6 390.95 728.3 392.47 729 394.22 729.7 397.61 730.4 395.67 731.1 396.03 731.8 397.53 732.5 401.44 733.2 400.88 733.9 399.56 734.6 400.43 735.3 397.84 736 397.29 736.7 398.5 737.4 399.78 738.1 396.67 738.8 395.01 739.5 391.56 740.2 391.53 740.9 392.76 741.6 390.18 742.3 389.05 743 387.46 743.7 386.91 744.4 383.01 745.1 380.82 745.8 378.95 746.5 377.3 747.2 377.9 747.9 376.84 748.6 374.2 749.3 373.64 750 373.99 750.7 374.02 751.4 374.22 752.1 374.99 752.8 376.33 753.5 378.12 754.2 379.1 754.9 383.3 755.6 382.81 756.3 383.04 757 384.38 757.7 384.8 758.4 387.07 759.1 389.63 759.8 391.75 760.5 393.43 761.2 397.03 761.9 399.26 762.6 399.97 763.3 399.51 764 396.5 764.7 400.06 765.4 399.93 766.1 400.93 766.8 398.45 767.5 397.45 768.2 397.08 768.9 398.21 769.6 395.09 770.3 395.42 771 392.11 771.7 390.76 772.4 390.47 773.1 389.95 773.8 388.23 774.5 385.68 775.2 383.76 775.9 381.14 776.6 380.52 777.3 378.6 778 379.44 778.7 378.49 779.4 379.65 780.1 376.05 780.8 377.58 781.5 376.1 782.2 375.39 782.9 373.92 783.6 374.26 784.3 378.07 785 380.19 785.7 381.08 786.4 380.13 787.1 383.29 787.8 386.07 788.5 385.66 789.2 386.4 789.9 387.98 790.6 391.05 791.3 392.2 792 394.15 792.7 395.53 793.4 396.66 794.1 400.26 794.8 401.82 795.5 401.83 796.2 402.88 796.9 400.69 797.6 400.07 798.3 398.71 799 398.99 799.7 397.96 800.4 395.5 801.1 396.29 801.8 394.43 802.5 392.54 803.2 391.3 803.9 385.14 804.6 384.34 805.3 382.41 806 383.09 806.7 383.68 807.4 381.05 808.1 380.38 808.8 378.44 809.5 374.89 810.2 375.95 810.9 375.6 811.6 375.39 812.3 377.15 813 375.72 813.7 375.2 814.4 376.7 815.1 377.17 815.8 379.03 816.5 379.87 817.2 382.23 817.9 383.87 818.6 383.66 819.3 384.85 820 387.6 820.7 389.64 821.4 390.77 822.1 394.9 822.8 397.21 823.5 397.56 824.2 398.93 824.9 400.76 825.6 400.61 826.3 401.99 827 401.19 827.7 399.8 828.4 397.18 829.1 396.62 829.8 396.09 830.5 395.01 831.2 398.94 831.9 395.69 832.6 394.73 833.3 393.05 834 392 834.7 388.68 835.4 386.23 836.1 383.98 836.8 383.87 837.5 384.05 838.2 381.57 838.9 381.03 839.6 377.92 840.3 375.87 841 375.53 841.7 376.29 842.4 375.85 843.1 375.45 843.8 374.68 844.5 374.4 845.2 376.11 845.9 376.15 846.6 378.87 847.3 378.81 848 380.82 848.7 381.77 849.4 383.45 850.1 388.2 850.8 388.17 851.5 391.77 852.2 392.89 852.9 392.91 853.6 395.36 854.3 393.61 855 396.85 855.7 399.66 856.4 399.85 857.1 400.05 857.8 400 858.5 399.67 859.2 400.03 859.9 399.36 860.6 398.69 861.3 398.1 862 394.76 862.7 395.51 863.4 395.32 864.1 394.48 864.8 393.71 865.5 389.56 866.2 385.69 866.9 386.99 867.6 384.93 868.3 382.42 869 379.71 869.7 379.42 870.4 377.79 871.1 376.63 871.8 375.67 872.5 373.88 873.2 375.19 873.9 373.82 874.6 374.17 875.3 375.93 876 378.31 876.7 379.06 877.4 378.28 878.1 380.09 878.8 382.21 879.5 382.35 880.2 385.02 880.9 385.63 881.6 386.75 882.3 390.8 883 389.2 883.7 393.12 884.4 393.55 885.1 394.53 885.8 396.58 886.5 399.8 887.2 401.04 887.9 399.93 888.6 398.82 889.3 399.14 890 398.4 890.7 396.77 891.4 396.62 892.1 397.18 892.8 397.34 893.5 396.33 894.2 394.55 894.9 391.99 895.6 391.48 896.3 390.42 897 387.4 897.7 388.07 898.4 383.16 899.1 382.7 899.8 382.06 900.5 380.54 901.2 379.26 901.9 380.44 902.6 379.39 903.3 378.25 904 374.68 904.7 374.03 905.4 374.65 906.1 374.46 906.8 375 907.5 376.75 908.2 378.63 908.9 377.37 909.6 377.88 910.3 380.12 911 382.35 911.7 386 912.4 386.15 913.1 388.93 913.8 390.17 914.5 391.32 915.2 394.39 915.9 396.32 916.6 395.95 917.3 397.06 918 398.68 918.7 400.56 919.4 398.87 920.1 399.65 920.8 401.36 921.5 400.35 922.2 399.78 922.9 397.86 923.6 397.06 924.3 395.81 925 394.9 925.7 390.76 926.4 390.9 927.1 387.16 927.8 385.18 928.5 385.16 929.2 382.04 929.9 382.13 930.6 380.92 931.3 378.96 932 379.88 932.7 376.63 933.4 375.81 934.1 374.75 934.8 372.69 935.5 374.83 936.2 376.29 936.9 374.91 937.6 376.91 938.3 375.92 939 381.54 939.7 379.58 940.4 378.04 941.1 381.64 941.8 384.06 942.5 388.8 943.2 386.89 943.9 389.65 944.6 390.73 945.3 393.04 946 394.99 946.7 397.06 947.4 398.43 948.1 400.81 948.8 399.86 949.5 399.87 950.2 399.93 950.9 398.82 951.6 397.84 952.3 399.93 953 398.21 953.7 395.71 954.4 394.9 955.1 394.06 955.8 395.36 956.5 392.89 957.2 391.14 957.9 388.74 958.6 388.1 959.3 385.78 960 385.23 960.7 381.99 961.4 377.68 962.1 377.46 962.8 377.5 963.5 375.15 964.2 374.84 964.9 375.68 965.6 374.83 966.3 377.31 967 375.69 967.7 370.56 968.4 374.6 969.1 377.2 969.8 378.85 970.5 379.81 971.2 381.19 971.9 382.36 972.6 383.51 973.3 383.63 974 384.47 974.7 388.88 975.4 391.08 976.1 391.31 976.8 393.06 977.5 393.15 978.2 396.93 978.9 396.06 979.6 397.97 980.3 398.35 981 399.39 981.7 400.98 982.4 400.39 983.1 397.14 983.8 398.67 984.5 399.14 985.2 398.81 985.9 397.25 986.6 395.62 987.3 395.41 988 391.94 988.7 389.14 989.4 386.93 990.1 384.83 990.8 381.38 991.5 381.16 992.2 380.32 992.9 380.02 993.6 378.3 994.3 376.95 995 376.88 995.7 377.06 996.4 380 997.1 376.89 997.8 374.67 998.5 373.77 999.2 376.57 999.9 376.7 1000.6 378.09 1001.3 377.71 1002 379.27 1002.7 382.54 1003.4 382.96 1004.1 383.99 1004.8 386.01 1005.5 386.12 1006.2 387.67 1006.9 390.38 1007.6 394.74 1008.3 398.32 1009 399.86 1009.7 398.4 1010.4 399.89 1011.1 399.36 1011.8 402.99 1012.5 402.69 1013.2 401.3 1013.9 399.94 1014.6 397.94 1015.3 397.59 1016 398.34 1016.7 396.32 1017.4 395.04 1018.1 393.77 1018.8 393.58 1019.5 391.36 1020.2 389.51 1020.9 388.47 1021.6 385.84 1022.3 382.6 1023 379.83" stroke="#3fcf3f" stroke-width="1.6" fill="none" stroke-linejoin="round"/>
<path d="M556.5 388.2 559.3 388.2 560.3 328.3 569.5 328.3 572 448.1 573.5 448.1 574.7 328.3 580.7 328.3 582.5 448.1 592 448.1 592.8 328.3 597.7 328.3 598.5 448.1 601.6 448.1 602.5 328.3 605 328.3 607.3 448.1 611.1 448.1 615.1 381 618 386 620.3 388.3 621.3 384.93 622 379.79 622.7 377.56 623.4 377.1 624.1 375.4 624.8 376.45 625.5 374.23 626.2 376.02 626.9 373.89 627.6 372.81 628.3 374.92 629 377.65 629.7 375.85 630.4 378.47 631.1 379.7 631.8 381.63 632.5 383.96 633.2 383.06 633.9 385.44 634.6 386.71 635.3 389.66 636 392.39 636.7 392.91 637.4 394.06 638.1 395.04 638.8 395.51 639.5 397.58 640.2 397.37 640.9 398.34 641.6 401.1 642.3 401.45 643 399.12 643.7 400.8 644.4 398.85 645.1 397.94 645.8 394.56 646.5 393.31 647.2 392.11 647.9 394.18 648.6 391.51 649.3 389.75 650 386.61 650.7 386.98 651.4 386.22 652.1 385.6 652.8 382.25 653.5 382.82 654.2 379.15 654.9 379.33 655.6 376.89 656.3 373.69 657 373.61 657.7 376.84 658.4 376.58 659.1 375.85 659.8 377.59 660.5 377.92 661.2 376.79 661.9 377.29 662.6 380.28 663.3 382.21 664 383.81 664.7 385.37 665.4 386.55 666.1 389.61 666.8 389.5 667.5 391.79 668.2 394.28 668.9 396.46 669.6 396.14 670.3 399.11 671 399.82 671.7 401.29 672.4 400.02 673.1 398.74 673.8 399.39 674.5 398.49 675.2 397.78 675.9 398.96 676.6 395.43 677.3 395.24 678 398.39 678.7 394.12 679.4 392.29 680.1 389.34 680.8 387.01 681.5 384.01 682.2 383.9 682.9 382.81 683.6 380.91 684.3 378.62 685 380.34 685.7 378.84 686.4 376.29 687.1 374.99 687.8 372.76 688.5 373.62 689.2 373.95 689.9 374.53 690.6 376.46 691.3 376.23 692 376.95 692.7 378.15 693.4 379.92 694.1 382.74 694.8 383.11 695.5 385.73 696.2 388.99 696.9 387.35 697.6 389.3 698.3 392.3 699 392.92 699.7 394.4 700.4 393.9 701.1 395.86 701.8 399.11 702.5 398.2 703.2 399.19 703.9 398.21 704.6 397.14 705.3 398.27 706 396.04 706.7 397.19 707.4 396.13 708.1 394.62 708.8 391.34 709.5 391.91 710.2 389.82 710.9 389.7 711.6 387.91 712.3 387.81 713 385.53 713.7 381.8 714.4 383.31 715.1 381.32 715.8 378.8 716.5 376.69 717.2 372.9 717.9 376.33 718.6 374.85 719.3 375.82 720 374.19 720.7 375.63 721.4 376.47 722.1 378.21 722.8 378.12 723.5 377.43 724.2 377.47 724.9 381.24 725.6 382.62 726.3 382.33 727 386.37 727.7 388.59 728.4 389.66 729.1 391.36 729.8 396.31 730.5 396.31 731.2 396.42 731.9 397.01 732.6 398.4 733.3 401.11 734 400.85 734.7 401.63 735.4 400.63 736.1 401.52 736.8 401.28 737.5 400.22 738.2 398.03 738.9 397.02 739.6 393.31 740.3 392.34 741 390.38 741.7 390.15 742.4 389.4 743.1 387.5 743.8 384.6 744.5 383.01 745.2 382.64 745.9 380.43 746.6 379.84 747.3 378.84 748 378.63 748.7 377.91 749.4 375.75 750.1 374.66 750.8 373.44 751.5 374.32 752.2 375.12 752.9 377.33 753.6 378.26 754.3 376.1 755 378.53 755.7 382.18 756.4 381.43 757.1 383.34 757.8 385.66 758.5 387.89 759.2 388.59 759.9 388.81 760.6 391.91 761.3 394.67 762 396.4 762.7 396.13 763.4 396.76 764.1 400.09 764.8 400.17 765.5 400.63 766.2 399.99 766.9 398.85 767.6 395.27 768.3 395.78 769 397.01 769.7 396.02 770.4 396.19 771.1 394 771.8 388.78 772.5 389.98 773.2 387.92 773.9 383.82 774.6 383.8 775.3 382.63 776 381.39 776.7 379.81 777.4 378.01 778.1 376.11 778.8 378.61 779.5 374.96 780.2 376.97 780.9 375.51 781.6 375.25 782.3 374.83 783 375.23 783.7 374.7 784.4 376.4 785.1 379.43 785.8 378.79 786.5 380.69 787.2 382.6 787.9 383.58 788.6 386.16 789.3 386.38 790 389.85 790.7 391.67 791.4 393.11 792.1 394.83 792.8 395.29 793.5 396.34 794.2 396.83 794.9 397.37 795.6 398.32 796.3 398.79 797 399.42 797.7 399.58 798.4 398.64 799.1 398.72 799.8 397.11 800.5 396.87 801.2 394.08 801.9 392.72 802.6 392.16 803.3 389.34 804 388.04 804.7 386.05 805.4 383.99 806.1 383.15 806.8 381.22 807.5 380.46 808.2 383.01 808.9 378.84 809.6 378.09 810.3 377.35 811 377.43 811.7 377.21 812.4 374.56 813.1 373.92 813.8 376.92 814.5 378.3 815.2 379.3 815.9 380.93 816.6 379.93 817.3 378.46 818 382.76 818.7 384.88 819.4 385.24 820.1 387.68 820.8 390.77 821.5 389.83 822.2 395.8 822.9 397.16 823.6 397.65 824.3 397.99 825 399.61 825.7 399.12 826.4 400.4 827.1 400.26 827.8 399.94 828.5 399.67 829.2 398.54 829.9 398.5 830.6 396.56 831.3 396.92 832 395.27 832.7 390.2 833.4 390.23 834.1 389.43 834.8 388.87 835.5 386.81 836.2 386.57 836.9 384.78 837.6 381.98 838.3 380.45 839 379.61 839.7 379.37 840.4 377.24 841.1 375.33 841.8 375.46 842.5 374.46 843.2 375.35 843.9 376.06 844.6 376.15 845.3 378.06 846 378.09 846.7 378.19 847.4 381.5 848.1 381.42 848.8 383.42 849.5 384 850.2 385.59 850.9 388.5 851.6 390.38 852.3 391.12 853 393.6 853.7 392.36 854.4 395.32 855.1 397.34 855.8 397.86 856.5 397.55 857.2 395.6 857.9 399.35 858.6 399.39 859.3 401.02 860 400.16 860.7 399.93 861.4 398.46 862.1 395.92 862.8 394.3 863.5 392.61 864.2 388.67 864.9 388.77 865.6 387.76 866.3 386.03 867 384.17 867.7 382.78 868.4 382.8 869.1 380.2 869.8 377.86 870.5 379.54 871.2 374.41 871.9 376.4 872.6 376.05 873.3 374.94 874 375.32 874.7 374.73 875.4 375.5 876.1 377.85 876.8 377.27 877.5 379.14 878.2 379.74 878.9 381.69 879.6 381.24 880.3 384.65 881 385.84 881.7 385.64 882.4 389.14 883.1 389.63 883.8 390.84 884.5 392.2 885.2 395.55 885.9 396.93 886.6 398.13 887.3 400.86 888 401.46 888.7 399.57 889.4 399.62 890.1 401.09 890.8 400.66 891.5 398.47 892.2 396.88 892.9 397.8 893.6 396.53 894.3 391.69 895 390.99 895.7 391.78 896.4 390.57 897.1 389.47 897.8 387.8 898.5 386.96 899.2 383.03 899.9 382.11 900.6 379.98 901.3 377.74 902 376.31 902.7 376.91 903.4 376.52 904.1 376.39 904.8 374.67 905.5 374.94 906.2 374.41 906.9 376.6 907.6 376.02 908.3 378.16 909 378.8 909.7 381.77 910.4 381.58 911.1 384.18 911.8 385.58 912.5 387.35 913.2 388.93 913.9 392.31 914.6 390.41 915.3 394.86 916 393.73 916.7 397.71 917.4 396.47 918.1 397.72 918.8 398.73 919.5 397.8 920.2 399.54 920.9 399.1 921.6 399.24 922.3 401.07 923 397.95 923.7 395.95 924.4 394.62 925.1 395.08 925.8 395.26 926.5 392.75 927.2 390.35 927.9 388.74 928.6 387.33 929.3 386.67 930 382.65 930.7 382.37 931.4 384.54 932.1 381.24 932.8 379.73 933.5 377.3 934.2 377.37 934.9 377.11 935.6 375.79 936.3 373.14 937 374.56 937.7 373.52 938.4 375.46 939.1 378.59 939.8 379.42 940.5 381.47 941.2 382.68 941.9 383.32 942.6 386.81 943.3 385.56 944 388.83 944.7 389.21 945.4 391.43 946.1 393.36 946.8 393.01 947.5 395.45 948.2 395.88 948.9 394.23 949.6 394.25 950.3 398.16 951 398.98 951.7 398.96 952.4 399.14 953.1 399.41 953.8 396.73 954.5 393.57 955.2 392.98 955.9 393.85 956.6 393.67 957.3 391.23 958 389 958.7 388.28 959.4 387.07 960.1 384.4 960.8 384.41 961.5 383.66 962.2 383 962.9 377.24 963.6 377.87 964.3 378.65 965 377.63 965.7 377.79 966.4 377.17 967.1 374.53 967.8 375.06 968.5 373.95 969.2 375.85 969.9 377.19 970.6 378.18 971.3 379.83 972 382.11 972.7 382.76 973.4 383.9 974.1 386.11 974.8 389.74 975.5 390.65 976.2 390.93 976.9 392.41 977.6 393.23 978.3 394.82 979 396.84 979.7 396.1 980.4 397.12 981.1 397.08 981.8 400.94 982.5 401.41 983.2 399.74 983.9 397.79 984.6 396.45 985.3 392.42 986 393.07 986.7 393.46 987.4 392.69 988.1 391.69 988.8 390.41 989.5 387.48 990.2 386.53 990.9 385.33 991.6 384.35 992.3 383.28 993 380.22 993.7 378.76 994.4 379.69 995.1 378.02 995.8 376.43 996.5 376.18 997.2 374.18 997.9 373.73 998.6 377.13 999.3 376.53 1000 375.07 1000.7 377.21 1001.4 379.25 1002.1 381.13 1002.8 380.96 1003.5 381.75 1004.2 385.83 1004.9 387.18 1005.6 387.62 1006.3 389.49 1007 392.35 1007.7 393.27 1008.4 395.09 1009.1 395.16 1009.8 396.78 1010.5 399.29 1011.2 399.56 1011.9 398.34 1012.6 398.62 1013.3 398.52 1014 399.01 1014.7 398.12 1015.4 396.69 1016.1 398.08 1016.8 397.79 1017.5 395.44 1018.2 393.96 1018.9 392.65 1019.6 390.16 1020.3 386.5 1021 385.66 1021.7 384.35 1022.4 383.82 1023.1 381.5" stroke="#c15af8" stroke-width="1.9" fill="none" stroke-linejoin="round"/>
</g>
<rect x="556.5" y="313.5" width="467" height="150" fill="none" stroke="#d9d9d9" stroke-width="1"/>
<text x="551.5" y="452.1" text-anchor="end" class="tk">-10</text>
<text x="551.5" y="392.1" text-anchor="end" class="tk">0</text>
<text x="551.5" y="332.1" text-anchor="end" class="tk">10</text>
<text x="789.3" y="308" text-anchor="middle" class="ti">acceleration</text>
<rect x="32" y="519" width="469" height="150" fill="#131313"/>
<path d="M126.5 520V668M219.5 520V668M313.5 520V668M406.5 520V668M33 634.5H500M33 588.5H500M33 542.5H500" stroke="#454545" stroke-width="1" fill="none"/>
<path d="M126.5 520v5.5M126.5 668v-5.5M219.5 520v5.5M219.5 668v-5.5M313.5 520v5.5M313.5 668v-5.5M406.5 520v5.5M406.5 668v-5.5M79.5 520v3M79.5 668v-3M172.5 520v3M172.5 668v-3M266.5 520v3M266.5 668v-3M360.5 520v3M360.5 668v-3M453.5 520v3M453.5 668v-3M33 634.5h5.5M500 634.5h-5.5M33 588.5h5.5M500 588.5h-5.5M33 542.5h5.5M500 542.5h-5.5M33 657.5h3M500 657.5h-3M33 611.5h3M500 611.5h-3M33 565.5h3M500 565.5h-3" stroke="#d9d9d9" stroke-width="1" fill="none"/>
<clipPath id="cr"><rect x="33" y="520" width="467" height="148"/></clipPath>
<g clip-path="url(#cr)">
<path d="M32.5 542.53H36.23V543.49H40.55V542.53H45.34V553.56H50.13V543.01H54.45V542.24H59.24V544.74H64.04V542.53H68.83V542.15H74.1V541.09H78.42V547.8H82.73V541.57H87.53V537.74H92.32V536.3H97.11V535.34H101.91V534.19H106.7V532.94H115.33V534.38H120.12V533.23H129.6V534.7H134.4V533.1H138.2V534.7H144V533.1H152.6V534.7H162.2V533.1H171.8V534.7H181.4V533.1H190V534.7H199.6V533.1H204.4V534.7H209.2V533.1H218.8V534.7H223.5V533.1H232.2V534.7H246.6V533.1H251.4V534.7H256.1V533.1H265.7V534.7H270.5V533.1H279.2V534.7H288.7V533.1H302.2V534.7H316.3V533.1H325.9V534.7H330.7V533.1H340.3V534.7H345V533.1H354.6V534.7H358.5V533.1H363.3V534.7H368V533.1H372.9V534.7H377.7V533.1H396.8V534.7H400.7V533.1H419.8V534.7H424.6V533.1H442.9V534.7H452.4V533.1H489.8V534.7H500.5" stroke="#f6e060" stroke-width="1.8" fill="none"/>
</g>
<rect x="32.5" y="519.5" width="468" height="149" fill="none" stroke="#d9d9d9" stroke-width="1"/>
<text x="27.5" y="638.1" text-anchor="end" class="tk">-40</text>
<text x="27.5" y="592.1" text-anchor="end" class="tk">-20</text>
<text x="27.5" y="546.1" text-anchor="end" class="tk">0</text>
<text x="32.5" y="682" text-anchor="middle" class="tk">0</text>
<text x="126.1" y="682" text-anchor="middle" class="tk">20</text>
<text x="219.7" y="682" text-anchor="middle" class="tk">40</text>
<text x="313.3" y="682" text-anchor="middle" class="tk">60</text>
<text x="406.9" y="682" text-anchor="middle" class="tk">80</text>
<text x="500.5" y="682" text-anchor="middle" class="tk">100</text>
<text x="265.8" y="514" text-anchor="middle" class="ti">reward</text>
<rect x="556" y="519" width="468" height="150" fill="#131313"/>
<path d="M649.5 520V668M743.5 520V668M836.5 520V668M930.5 520V668M557 631.5H1023M557 594.5H1023M557 556.5H1023" stroke="#454545" stroke-width="1" fill="none"/>
<path d="M649.5 520v5.5M649.5 668v-5.5M743.5 520v5.5M743.5 668v-5.5M836.5 520v5.5M836.5 668v-5.5M930.5 520v5.5M930.5 668v-5.5M603.5 520v3M603.5 668v-3M696.5 520v3M696.5 668v-3M790.5 520v3M790.5 668v-3M883.5 520v3M883.5 668v-3M976.5 520v3M976.5 668v-3M557 668.5h5.5M1023 668.5h-5.5M557 631.5h5.5M1023 631.5h-5.5M557 594.5h5.5M1023 594.5h-5.5M557 556.5h5.5M1023 556.5h-5.5M557 519.5h5.5M1023 519.5h-5.5M557 649.5h3M1023 649.5h-3M557 612.5h3M1023 612.5h-3M557 575.5h3M1023 575.5h-3M557 538.5h3M1023 538.5h-3" stroke="#d9d9d9" stroke-width="1" fill="none"/>
<path d="M557 594.5 1023 594.5" stroke="#f6e060" stroke-width="2" fill="none" stroke-linejoin="round"/>
<rect x="556.5" y="519.5" width="467" height="149" fill="none" stroke="#d9d9d9" stroke-width="1"/>
<text x="551.5" y="672.1" text-anchor="end" class="tk">-1</text>
<text x="551.5" y="635.1" text-anchor="end" class="tk">-0.5</text>
<text x="551.5" y="598.1" text-anchor="end" class="tk">0</text>
<text x="551.5" y="560.1" text-anchor="end" class="tk">0.5</text>
<text x="551.5" y="523.1" text-anchor="end" class="tk">1</text>
<text x="556.5" y="682" text-anchor="middle" class="tk">0</text>
<text x="649.9" y="682" text-anchor="middle" class="tk">20</text>
<text x="743.3" y="682" text-anchor="middle" class="tk">40</text>
<text x="836.7" y="682" text-anchor="middle" class="tk">60</text>
<text x="930.1" y="682" text-anchor="middle" class="tk">80</text>
<text x="1023.5" y="682" text-anchor="middle" class="tk">100</text>
<text x="789.3" y="514" text-anchor="middle" class="ti">collision</text>
<path d="M5 39.5h30" stroke="#f6e060" stroke-width="1.6"/>
<text x="37" y="42" class="lg" textLength="44.8" lengthAdjust="spacingAndGlyphs">velocity:1</text>
<path d="M98 39.5h30" stroke="#2f8fe6" stroke-width="1.6"/>
<text x="130" y="42" class="lg" textLength="44.8" lengthAdjust="spacingAndGlyphs">velocity:2</text>
<path d="M191 39.5h30" stroke="#f07a2c" stroke-width="1.6"/>
<text x="223" y="42" class="lg" textLength="44.8" lengthAdjust="spacingAndGlyphs">velocity:3</text>
<path d="M283.5 39.5h30" stroke="#3fcf3f" stroke-width="1.6"/>
<text x="315.5" y="42" class="lg" textLength="44.8" lengthAdjust="spacingAndGlyphs">velocity:4</text>
<path d="M376 39.5h30" stroke="#c15af8" stroke-width="1.6"/>
<text x="408" y="42" class="lg" textLength="44.8" lengthAdjust="spacingAndGlyphs">velocity:5</text>
<path d="M526.5 44.5h10.2V35.5h9.6" stroke="#f6e060" stroke-width="1.6" fill="none"/>
<text x="547.9" y="42" class="lg">gains:1</text>
<path d="M598.5 44.5h10.2V35.5h9.6" stroke="#2f8fe6" stroke-width="1.6" fill="none"/>
<text x="619.9" y="42" class="lg">gains:2</text>
<path d="M671 44.5h10.2V35.5h9.6" stroke="#f07a2c" stroke-width="1.6" fill="none"/>
<text x="692.4" y="42" class="lg">gains:3</text>
<path d="M5.5 267.5h10.2V258.5h9.6" stroke="#f6e060" stroke-width="1.6" fill="none"/>
<text x="26.9" y="265" class="lg">spacing:1</text>
<path d="M90 267.5h10.2V258.5h9.6" stroke="#2f8fe6" stroke-width="1.6" fill="none"/>
<text x="111.4" y="265" class="lg">spacing:2</text>
<path d="M174.5 267.5h10.2V258.5h9.6" stroke="#f07a2c" stroke-width="1.6" fill="none"/>
<text x="195.9" y="265" class="lg">spacing:3</text>
<path d="M259 267.5h10.2V258.5h9.6" stroke="#3fcf3f" stroke-width="1.6" fill="none"/>
<text x="280.4" y="265" class="lg">spacing:4</text>
<path d="M343 267.5h10.2V258.5h9.6" stroke="#c15af8" stroke-width="1.6" fill="none"/>
<text x="364.4" y="265" class="lg">ref_spacing</text>
<path d="M526 262.4h30" stroke="#f6e060" stroke-width="1.6"/>
<text x="558" y="264.6" class="lg">acceleration:1</text>
<path d="M641.5 262.4h30" stroke="#2f8fe6" stroke-width="1.6"/>
<text x="673.5" y="264.6" class="lg">acceleration:2</text>
<path d="M757 262.4h30" stroke="#f07a2c" stroke-width="1.6"/>
<text x="789" y="264.6" class="lg">acceleration:3</text>
<path d="M872.5 262.4h30" stroke="#3fcf3f" stroke-width="1.6"/>
<text x="904.5" y="264.6" class="lg">acceleration:4</text>
<path d="M531 279.5h30" stroke="#c15af8" stroke-width="1.6"/>
<text x="563" y="281.8" class="lg">acceleration:5</text>
<path d="M5.5 490.5h10.2V481.5h9.6" stroke="#f6e060" stroke-width="1.6" fill="none"/>
<text x="26.9" y="488" class="lg">reward</text>
<path d="M526.5 490.5h10.2V481.5h9.6" stroke="#f6e060" stroke-width="1.6" fill="none"/>
<text x="547.9" y="488" class="lg">collision</text>
<rect x="0" y="0" width="1043" height="28" fill="#003f78"/>
<text x="37" y="19" textLength="32" lengthAdjust="spacingAndGlyphs" style="font:11px 'Liberation Sans',sans-serif;fill:#ffffff;stroke:#ffffff;stroke-width:0.3px">SCOPE</text>
<text x="118" y="19" textLength="82.4" lengthAdjust="spacingAndGlyphs" style="font:11px 'Liberation Sans',sans-serif;fill:#ffffff;stroke:#ffffff;stroke-width:0.3px">MEASUREMENTS</text>
<path d="M851.2 13.9L857.6 3.2H1032.8V24.7H857.6Z" fill="#668baf"/>
<path d="M857.6 3.7H1032.8" stroke="#7a98b6" stroke-width="1"/>
<path d="M868.4 12.3L875.4 6.4V16.5Z" fill="#c6e4ff" stroke="#1a1a1a" stroke-width="0.9" stroke-linejoin="round"/>
<rect x="877.4" y="6.3" width="3.6" height="7.5" rx="1.4" fill="#d2f2ff" stroke="#1a1a1a" stroke-width="0.9"/>
<polygon points="878.50,11.00 879.99,13.00 882.46,12.64 882.10,15.11 884.10,16.60 882.10,18.09 882.46,20.56 879.99,20.20 878.50,22.20 877.01,20.20 874.54,20.56 874.90,18.09 872.90,16.60 874.90,15.11 874.54,12.64 877.01,13.00" fill="#ececec" stroke="#1e1e1e" stroke-width="0.9" stroke-linejoin="round"/>
<circle cx="878.5" cy="16.6" r="1.5" fill="#9a9a9a"/>
<circle cx="902" cy="13.9" r="7.2" fill="#cdf6c6" stroke="#128f12" stroke-width="1.4"/>
<path d="M899.3 9.6L906.8 13.9L899.3 18.2Z" fill="#0a850a"/>
<rect x="920.3" y="6.8" width="3.2" height="14.5" fill="#d8fad0" stroke="#128f12" stroke-width="1"/>
<path d="M926.3 6.8L935 14L926.3 21.2Z" fill="#cdf6c6" stroke="#128f12" stroke-width="1"/>
<circle cx="953.8" cy="13.8" r="7.6" fill="none" stroke="#a9bfd4" stroke-width="1"/>
<rect x="951" y="11.2" width="6" height="5.8" fill="#b0c1d2"/>
<path d="M971.5 5V22.7" stroke="#a99d88" stroke-width="1"/>
<circle cx="988.2" cy="13.8" r="6.6" fill="#ffffff" stroke="#2a7fd4" stroke-width="1.2"/>
<text x="988.2" y="18.2" text-anchor="middle" style="font:bold 11px 'Liberation Sans',sans-serif;fill:#111">?</text>
<rect x="1010.3" y="6.3" width="12.2" height="12.2" fill="#555" stroke="#fff" stroke-width="1"/>
<rect x="1007.4" y="16.5" width="5.4" height="5" fill="#555" stroke="#fff" stroke-width="1"/>
<path d="M1012.5 16L1016.8 11.7M1014 11.5H1017V14.5" stroke="#fff" stroke-width="0.9" fill="none"/>
<rect x="0" y="698" width="1043" height="23" fill="#e6e6e6"/>
<rect x="0" y="698" width="1043" height="1" fill="#8c8c8c"/><rect x="0" y="699" width="1043" height="1" fill="#eeeeee"/>
<text x="7.5" y="714" textLength="33" lengthAdjust="spacingAndGlyphs" style="font:12px 'Liberation Sans',sans-serif;fill:#1e1e1e">Ready</text>
<text x="887.5" y="714" textLength="76.2" lengthAdjust="spacingAndGlyphs" style="font:12px 'Liberation Sans',sans-serif;fill:#1e1e1e">Sample based</text>
<text x="976" y="714" textLength="63.5" lengthAdjust="spacingAndGlyphs" style="font:12px 'Liberation Sans',sans-serif;fill:#1e1e1e">T=100.0000</text>
</svg>
</body></html>
